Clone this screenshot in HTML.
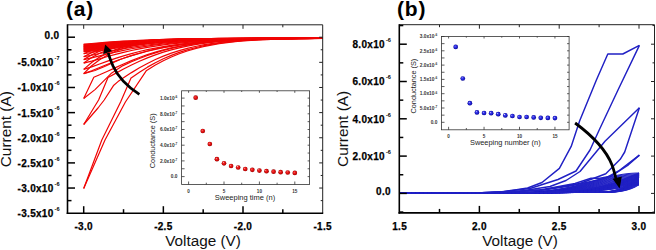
<!DOCTYPE html>
<html><head><meta charset="utf-8"><style>
html,body{margin:0;padding:0;background:#fff;}
svg{display:block;}
</style></head><body>
<svg width="656" height="250" viewBox="0 0 656 250" font-family="'Liberation Sans', sans-serif">
<rect width="656" height="250" fill="#fff"/>
<g clip-path="url(#clipA)">
<path d="M83.70,188.50 L101.80,140.00 L120.60,102.00 L131.00,78.00 L131.49,77.65 L139.46,72.14 L147.42,67.14 L155.39,62.68 L163.35,58.75 L171.31,55.33 L179.28,52.38 L187.25,49.86 L195.21,47.73 L203.18,45.95 L211.14,44.46 L219.11,43.23 L227.07,42.23 L235.04,41.40 L243.00,40.74 L250.97,40.20 L258.93,39.77 L266.90,39.42 L274.86,39.15 L282.83,38.94 L290.79,38.77 L298.76,38.64 L306.72,38.53 L314.69,38.45 L322.65,38.39 L330.62,38.35 L338.58,38.31" fill="none" stroke="#f00404" stroke-width="1.2" stroke-linejoin="round"/>
<path d="M83.70,188.50 L105.00,140.00 L125.40,102.00 L146.20,70.80 L147.42,70.00 L155.39,65.09 L163.35,60.78 L171.31,57.02 L179.28,53.78 L187.25,51.01 L195.21,48.67 L203.18,46.71 L211.14,45.08 L219.11,43.73 L227.07,42.62 L235.04,41.72 L243.00,40.99 L250.97,40.40 L258.93,39.92 L266.90,39.55 L274.86,39.25 L282.83,39.01 L290.79,38.82 L298.76,38.68 L306.72,38.57 L314.69,38.48 L322.65,38.41 L330.62,38.36 L338.58,38.32" fill="none" stroke="#f00404" stroke-width="1.2" stroke-linejoin="round"/>
<path d="M83.70,124.50 L93.70,108.00 L98.60,100.00 L108.00,77.50 L115.56,73.35 L123.53,69.07 L131.49,65.02 L139.46,61.27 L147.42,57.88 L155.39,54.84 L163.35,52.17 L171.31,49.84 L179.28,47.84 L187.25,46.13 L195.21,44.68 L203.18,43.47 L211.14,42.46 L219.11,41.62 L227.07,40.94 L235.04,40.38 L243.00,39.92 L250.97,39.56 L258.93,39.27 L266.90,39.03 L274.86,38.85 L282.83,38.70 L290.79,38.59 L298.76,38.50 L306.72,38.43 L314.69,38.37 L322.65,38.33 L330.62,38.30 L338.58,38.27" fill="none" stroke="#f00404" stroke-width="1.2" stroke-linejoin="round"/>
<path d="M83.70,124.50 L98.00,108.00 L104.20,100.00 L113.80,85.20 L118.00,81.60 L123.53,77.81 L131.49,72.62 L139.46,67.81 L147.42,63.45 L155.39,59.56 L163.35,56.13 L171.31,53.14 L179.28,50.57 L187.25,48.37 L195.21,46.52 L203.18,44.96 L211.14,43.66 L219.11,42.59 L227.07,41.71 L235.04,40.99 L243.00,40.41 L250.97,39.94 L258.93,39.57 L266.90,39.27 L274.86,39.03 L282.83,38.84 L290.79,38.70 L298.76,38.58 L306.72,38.49 L314.69,38.42 L322.65,38.37 L330.62,38.33 L338.58,38.30" fill="none" stroke="#f00404" stroke-width="1.2" stroke-linejoin="round"/>
<path d="M83.70,98.50 L93.80,77.20 L99.63,74.81 L107.59,71.24 L115.56,67.59 L123.53,64.01 L131.49,60.62 L139.46,57.49 L147.42,54.65 L155.39,52.12 L163.35,49.88 L171.31,47.94 L179.28,46.26 L187.25,44.83 L195.21,43.62 L203.18,42.60 L211.14,41.76 L219.11,41.06 L227.07,40.49 L235.04,40.02 L243.00,39.64 L250.97,39.34 L258.93,39.09 L266.90,38.90 L274.86,38.74 L282.83,38.62 L290.79,38.52 L298.76,38.45 L306.72,38.39 L314.69,38.34 L322.65,38.31 L330.62,38.28 L338.58,38.26" fill="none" stroke="#f00404" stroke-width="1.2" stroke-linejoin="round"/>
<path d="M83.70,98.50 L95.00,89.60 L111.00,73.60 L123.00,65.60 L123.53,65.36 L131.49,61.79 L139.46,58.50 L147.42,55.51 L155.39,52.84 L163.35,50.49 L171.31,48.44 L179.28,46.68 L187.25,45.17 L195.21,43.90 L203.18,42.83 L211.14,41.95 L219.11,41.21 L227.07,40.61 L235.04,40.12 L243.00,39.72 L250.97,39.40 L258.93,39.14 L266.90,38.93 L274.86,38.77 L282.83,38.64 L290.79,38.54 L298.76,38.46 L306.72,38.40 L314.69,38.35 L322.65,38.32 L330.62,38.29 L338.58,38.27" fill="none" stroke="#f00404" stroke-width="1.2" stroke-linejoin="round"/>
<path d="M83.70,73.60 L95.00,70.50 L104.60,66.50 L120.00,59.50 L123.53,58.28 L131.49,55.65 L139.46,53.21 L147.42,51.00 L155.39,49.03 L163.35,47.29 L171.31,45.78 L179.28,44.47 L187.25,43.36 L195.21,42.42 L203.18,41.63 L211.14,40.97 L219.11,40.43 L227.07,39.98 L235.04,39.62 L243.00,39.32 L250.97,39.08 L258.93,38.89 L266.90,38.74 L274.86,38.62 L282.83,38.53 L290.79,38.45 L298.76,38.39 L306.72,38.35 L314.69,38.31 L322.65,38.29 L330.62,38.26 L338.58,38.25" fill="none" stroke="#f00404" stroke-width="1.2" stroke-linejoin="round"/>
<path d="M83.70,73.60 L91.66,70.80 L99.63,67.49 L107.59,64.21 L115.56,61.11 L123.53,58.24 L131.49,55.64 L139.46,53.30 L147.42,51.22 L155.39,49.39 L163.35,47.78 L171.31,46.38 L179.28,45.16 L187.25,44.11 L195.21,43.20 L203.18,42.42 L211.14,41.76 L219.11,41.19 L227.07,40.71 L235.04,40.30 L243.00,39.96 L250.97,39.67 L258.93,39.42 L266.90,39.22 L274.86,39.04 L282.83,38.90 L290.79,38.78 L298.76,38.68 L306.72,38.59 L314.69,38.53 L322.65,38.47 L330.62,38.42 L338.58,38.38" fill="none" stroke="#f00404" stroke-width="1.2" stroke-linejoin="round"/>
<path d="M83.70,73.60 L91.66,65.77 L99.63,59.67 L107.59,54.92 L115.56,51.22 L123.53,48.34 L131.49,46.10 L139.46,44.35 L147.42,42.99 L155.39,41.93 L163.35,41.11 L171.31,40.46 L179.28,39.96 L187.25,39.57 L195.21,39.27 L203.18,39.03 L211.14,38.85 L219.11,38.70 L227.07,38.59 L235.04,38.51 L243.00,38.44 L250.97,38.39 L258.93,38.34 L266.90,38.31 L274.86,38.29 L282.83,38.27 L290.79,38.25 L298.76,38.24 L306.72,38.23 L314.69,38.23 L322.65,38.22 L330.62,38.22 L338.58,38.21" fill="none" stroke="#f00404" stroke-width="1.2" stroke-linejoin="round"/>
<path d="M83.70,69.40 L91.66,66.93 L99.63,64.01 L107.59,61.12 L115.56,58.39 L123.53,55.86 L131.49,53.57 L139.46,51.51 L147.42,49.68 L155.39,48.06 L163.35,46.64 L171.31,45.41 L179.28,44.33 L187.25,43.41 L195.21,42.61 L203.18,41.92 L211.14,41.34 L219.11,40.84 L227.07,40.41 L235.04,40.05 L243.00,39.75 L250.97,39.49 L258.93,39.28 L266.90,39.10 L274.86,38.94 L282.83,38.82 L290.79,38.71 L298.76,38.62 L306.72,38.55 L314.69,38.49 L322.65,38.44 L330.62,38.39 L338.58,38.36" fill="none" stroke="#f00404" stroke-width="1.2" stroke-linejoin="round"/>
<path d="M83.70,69.40 L91.66,62.50 L99.63,57.12 L107.59,52.94 L115.56,49.68 L123.53,47.14 L131.49,45.16 L139.46,43.62 L147.42,42.42 L155.39,41.49 L163.35,40.76 L171.31,40.19 L179.28,39.75 L187.25,39.41 L195.21,39.14 L203.18,38.93 L211.14,38.77 L219.11,38.65 L227.07,38.55 L235.04,38.47 L243.00,38.41 L250.97,38.36 L258.93,38.33 L266.90,38.30 L274.86,38.28 L282.83,38.26 L290.79,38.25 L298.76,38.24 L306.72,38.23 L314.69,38.22 L322.65,38.22 L330.62,38.21 L338.58,38.21" fill="none" stroke="#f00404" stroke-width="1.2" stroke-linejoin="round"/>
<path d="M83.70,63.10 L91.66,61.13 L99.63,58.80 L107.59,56.50 L115.56,54.31 L123.53,52.30 L131.49,50.47 L139.46,48.82 L147.42,47.36 L155.39,46.07 L163.35,44.94 L171.31,43.95 L179.28,43.09 L187.25,42.35 L195.21,41.72 L203.18,41.17 L211.14,40.70 L219.11,40.30 L227.07,39.97 L235.04,39.68 L243.00,39.44 L250.97,39.23 L258.93,39.06 L266.90,38.91 L274.86,38.79 L282.83,38.69 L290.79,38.61 L298.76,38.54 L306.72,38.48 L314.69,38.43 L322.65,38.39 L330.62,38.35 L338.58,38.33" fill="none" stroke="#f00404" stroke-width="1.2" stroke-linejoin="round"/>
<path d="M83.70,63.10 L91.66,57.59 L99.63,53.30 L107.59,49.96 L115.56,47.36 L123.53,45.33 L131.49,43.76 L139.46,42.53 L147.42,41.57 L155.39,40.82 L163.35,40.24 L171.31,39.79 L179.28,39.44 L187.25,39.17 L195.21,38.95 L203.18,38.79 L211.14,38.66 L219.11,38.56 L227.07,38.48 L235.04,38.42 L243.00,38.37 L250.97,38.33 L258.93,38.30 L266.90,38.28 L274.86,38.26 L282.83,38.25 L290.79,38.24 L298.76,38.23 L306.72,38.22 L314.69,38.22 L322.65,38.21 L330.62,38.21 L338.58,38.21" fill="none" stroke="#f00404" stroke-width="1.2" stroke-linejoin="round"/>
<path d="M83.70,59.60 L91.66,57.91 L99.63,55.91 L107.59,53.92 L115.56,52.05 L123.53,50.32 L131.49,48.74 L139.46,47.33 L147.42,46.07 L155.39,44.96 L163.35,43.99 L171.31,43.14 L179.28,42.41 L187.25,41.77 L195.21,41.22 L203.18,40.75 L211.14,40.35 L219.11,40.01 L227.07,39.72 L235.04,39.47 L243.00,39.26 L250.97,39.09 L258.93,38.94 L266.90,38.81 L274.86,38.71 L282.83,38.62 L290.79,38.55 L298.76,38.49 L306.72,38.44 L314.69,38.40 L322.65,38.36 L330.62,38.33 L338.58,38.31" fill="none" stroke="#f00404" stroke-width="1.2" stroke-linejoin="round"/>
<path d="M83.70,59.60 L91.66,54.87 L99.63,51.18 L107.59,48.31 L115.56,46.07 L123.53,44.33 L131.49,42.97 L139.46,41.92 L147.42,41.10 L155.39,40.46 L163.35,39.96 L171.31,39.57 L179.28,39.27 L187.25,39.03 L195.21,38.85 L203.18,38.70 L211.14,38.59 L219.11,38.51 L227.07,38.44 L235.04,38.39 L243.00,38.34 L250.97,38.31 L258.93,38.29 L266.90,38.27 L274.86,38.25 L282.83,38.24 L290.79,38.23 L298.76,38.23 L306.72,38.22 L314.69,38.22 L322.65,38.21 L330.62,38.21 L338.58,38.21" fill="none" stroke="#f00404" stroke-width="1.2" stroke-linejoin="round"/>
<path d="M83.70,56.70 L91.66,55.24 L99.63,53.51 L107.59,51.79 L115.56,50.17 L123.53,48.67 L131.49,47.31 L139.46,46.09 L147.42,45.01 L155.39,44.05 L163.35,43.21 L171.31,42.47 L179.28,41.84 L187.25,41.29 L195.21,40.81 L203.18,40.41 L211.14,40.06 L219.11,39.76 L227.07,39.51 L235.04,39.30 L243.00,39.12 L250.97,38.97 L258.93,38.84 L266.90,38.73 L274.86,38.64 L282.83,38.57 L290.79,38.50 L298.76,38.45 L306.72,38.41 L314.69,38.37 L322.65,38.34 L330.62,38.31 L338.58,38.29" fill="none" stroke="#f00404" stroke-width="1.2" stroke-linejoin="round"/>
<path d="M83.70,56.70 L91.66,52.61 L99.63,49.42 L107.59,46.94 L115.56,45.01 L123.53,43.50 L131.49,42.33 L139.46,41.41 L147.42,40.70 L155.39,40.15 L163.35,39.72 L171.31,39.38 L179.28,39.12 L187.25,38.92 L195.21,38.76 L203.18,38.64 L211.14,38.54 L219.11,38.46 L227.07,38.41 L235.04,38.36 L243.00,38.32 L250.97,38.30 L258.93,38.28 L266.90,38.26 L274.86,38.25 L282.83,38.24 L290.79,38.23 L298.76,38.22 L306.72,38.22 L314.69,38.21 L322.65,38.21 L330.62,38.21 L338.58,38.21" fill="none" stroke="#f00404" stroke-width="1.2" stroke-linejoin="round"/>
<path d="M83.70,53.70 L91.66,52.47 L99.63,51.02 L107.59,49.59 L115.56,48.23 L123.53,46.98 L131.49,45.84 L139.46,44.81 L147.42,43.90 L155.39,43.10 L163.35,42.39 L171.31,41.78 L179.28,41.25 L187.25,40.79 L195.21,40.39 L203.18,40.05 L211.14,39.76 L219.11,39.51 L227.07,39.30 L235.04,39.12 L243.00,38.97 L250.97,38.84 L258.93,38.73 L266.90,38.64 L274.86,38.57 L282.83,38.51 L290.79,38.45 L298.76,38.41 L306.72,38.37 L314.69,38.34 L322.65,38.32 L330.62,38.30 L338.58,38.28" fill="none" stroke="#f00404" stroke-width="1.2" stroke-linejoin="round"/>
<path d="M83.70,53.70 L91.66,50.27 L99.63,47.60 L107.59,45.52 L115.56,43.90 L123.53,42.64 L131.49,41.66 L139.46,40.89 L147.42,40.30 L155.39,39.83 L163.35,39.47 L171.31,39.19 L179.28,38.97 L187.25,38.80 L195.21,38.67 L203.18,38.56 L211.14,38.48 L219.11,38.42 L227.07,38.37 L235.04,38.33 L243.00,38.30 L250.97,38.28 L258.93,38.26 L266.90,38.25 L274.86,38.24 L282.83,38.23 L290.79,38.22 L298.76,38.22 L306.72,38.21 L314.69,38.21 L322.65,38.21 L330.62,38.21 L338.58,38.21" fill="none" stroke="#f00404" stroke-width="1.2" stroke-linejoin="round"/>
<path d="M83.70,51.80 L91.66,51.13 L99.63,50.09 L107.59,48.93 L115.56,47.75 L123.53,46.58 L131.49,45.48 L139.46,44.47 L147.42,43.54 L155.39,42.72 L163.35,41.99 L171.31,41.36 L179.28,40.82 L187.25,40.35 L195.21,39.96 L203.18,39.63 L211.14,39.36 L219.11,39.13 L227.07,38.94 L235.04,38.79 L243.00,38.67 L250.97,38.57 L258.93,38.49 L266.90,38.43 L274.86,38.38 L282.83,38.34 L290.79,38.31 L298.76,38.28 L306.72,38.26 L314.69,38.25 L322.65,38.24 L330.62,38.23 L338.58,38.22" fill="none" stroke="#f00404" stroke-width="1.1" stroke-linejoin="round"/>
<path d="M83.70,51.80 L91.66,49.89 L99.63,48.24 L107.59,46.83 L115.56,45.62 L123.53,44.58 L131.49,43.68 L139.46,42.91 L147.42,42.25 L155.39,41.68 L163.35,41.19 L171.31,40.77 L179.28,40.41 L187.25,40.10 L195.21,39.83 L203.18,39.60 L211.14,39.40 L219.11,39.23 L227.07,39.09 L235.04,38.96 L243.00,38.86 L250.97,38.76 L258.93,38.69 L266.90,38.62 L274.86,38.56 L282.83,38.51 L290.79,38.46 L298.76,38.43 L306.72,38.40 L314.69,38.37 L322.65,38.34 L330.62,38.32 L338.58,38.31" fill="none" stroke="#f00404" stroke-width="1.1" stroke-linejoin="round"/>
<path d="M83.70,51.00 L91.66,50.37 L99.63,49.39 L107.59,48.30 L115.56,47.18 L123.53,46.09 L131.49,45.06 L139.46,44.10 L147.42,43.23 L155.39,42.45 L163.35,41.77 L171.31,41.18 L179.28,40.66 L187.25,40.23 L195.21,39.86 L203.18,39.55 L211.14,39.29 L219.11,39.07 L227.07,38.90 L235.04,38.76 L243.00,38.64 L250.97,38.55 L258.93,38.47 L266.90,38.41 L274.86,38.37 L282.83,38.33 L290.79,38.30 L298.76,38.28 L306.72,38.26 L314.69,38.24 L322.65,38.23 L330.62,38.23 L338.58,38.22" fill="none" stroke="#f00404" stroke-width="1.1" stroke-linejoin="round"/>
<path d="M83.70,51.00 L91.66,49.20 L99.63,47.65 L107.59,46.32 L115.56,45.18 L123.53,44.20 L131.49,43.36 L139.46,42.63 L147.42,42.01 L155.39,41.47 L163.35,41.01 L171.31,40.62 L179.28,40.28 L187.25,39.99 L195.21,39.73 L203.18,39.52 L211.14,39.33 L219.11,39.17 L227.07,39.04 L235.04,38.92 L243.00,38.82 L250.97,38.73 L258.93,38.66 L266.90,38.59 L274.86,38.54 L282.83,38.49 L290.79,38.45 L298.76,38.41 L306.72,38.38 L314.69,38.36 L322.65,38.34 L330.62,38.32 L338.58,38.30" fill="none" stroke="#f00404" stroke-width="1.1" stroke-linejoin="round"/>
<path d="M83.70,50.20 L91.66,49.61 L99.63,48.69 L107.59,47.67 L115.56,46.62 L123.53,45.60 L131.49,44.63 L139.46,43.73 L147.42,42.92 L155.39,42.19 L163.35,41.55 L171.31,40.99 L179.28,40.51 L187.25,40.10 L195.21,39.75 L203.18,39.46 L211.14,39.22 L219.11,39.02 L227.07,38.86 L235.04,38.72 L243.00,38.61 L250.97,38.53 L258.93,38.46 L266.90,38.40 L274.86,38.36 L282.83,38.32 L290.79,38.29 L298.76,38.27 L306.72,38.25 L314.69,38.24 L322.65,38.23 L330.62,38.22 L338.58,38.22" fill="none" stroke="#f00404" stroke-width="1.1" stroke-linejoin="round"/>
<path d="M83.70,50.20 L91.66,48.51 L99.63,47.06 L107.59,45.82 L115.56,44.75 L123.53,43.83 L131.49,43.03 L139.46,42.35 L147.42,41.77 L155.39,41.27 L163.35,40.84 L171.31,40.47 L179.28,40.15 L187.25,39.87 L195.21,39.64 L203.18,39.44 L211.14,39.26 L219.11,39.11 L227.07,38.98 L235.04,38.87 L243.00,38.78 L250.97,38.70 L258.93,38.63 L266.90,38.57 L274.86,38.52 L282.83,38.47 L290.79,38.43 L298.76,38.40 L306.72,38.37 L314.69,38.35 L322.65,38.33 L330.62,38.31 L338.58,38.29" fill="none" stroke="#f00404" stroke-width="1.1" stroke-linejoin="round"/>
<path d="M83.70,49.40 L91.66,48.85 L99.63,47.99 L107.59,47.04 L115.56,46.06 L123.53,45.10 L131.49,44.20 L139.46,43.36 L147.42,42.60 L155.39,41.92 L163.35,41.33 L171.31,40.80 L179.28,40.36 L187.25,39.97 L195.21,39.65 L203.18,39.38 L211.14,39.15 L219.11,38.97 L227.07,38.81 L235.04,38.69 L243.00,38.59 L250.97,38.50 L258.93,38.44 L266.90,38.39 L274.86,38.34 L282.83,38.31 L290.79,38.29 L298.76,38.27 L306.72,38.25 L314.69,38.24 L322.65,38.23 L330.62,38.22 L338.58,38.22" fill="none" stroke="#f00404" stroke-width="1.1" stroke-linejoin="round"/>
<path d="M83.70,49.40 L91.66,47.83 L99.63,46.47 L107.59,45.31 L115.56,44.31 L123.53,43.45 L131.49,42.71 L139.46,42.08 L147.42,41.53 L155.39,41.06 L163.35,40.66 L171.31,40.32 L179.28,40.02 L187.25,39.76 L195.21,39.54 L203.18,39.35 L211.14,39.19 L219.11,39.05 L227.07,38.93 L235.04,38.83 L243.00,38.74 L250.97,38.66 L258.93,38.60 L266.90,38.54 L274.86,38.50 L282.83,38.45 L290.79,38.42 L298.76,38.39 L306.72,38.36 L314.69,38.34 L322.65,38.32 L330.62,38.30 L338.58,38.29" fill="none" stroke="#f00404" stroke-width="1.1" stroke-linejoin="round"/>
<path d="M83.70,48.60 L91.66,48.08 L99.63,47.29 L107.59,46.41 L115.56,45.50 L123.53,44.61 L131.49,43.77 L139.46,42.99 L147.42,42.29 L155.39,41.66 L163.35,41.10 L171.31,40.62 L179.28,40.20 L187.25,39.85 L195.21,39.55 L203.18,39.29 L211.14,39.08 L219.11,38.91 L227.07,38.77 L235.04,38.65 L243.00,38.56 L250.97,38.48 L258.93,38.42 L266.90,38.37 L274.86,38.33 L282.83,38.30 L290.79,38.28 L298.76,38.26 L306.72,38.25 L314.69,38.24 L322.65,38.23 L330.62,38.22 L338.58,38.22" fill="none" stroke="#f00404" stroke-width="1.1" stroke-linejoin="round"/>
<path d="M83.70,48.60 L91.66,47.14 L99.63,45.88 L107.59,44.80 L115.56,43.87 L123.53,43.08 L131.49,42.39 L139.46,41.80 L147.42,41.29 L155.39,40.86 L163.35,40.49 L171.31,40.16 L179.28,39.89 L187.25,39.65 L195.21,39.45 L203.18,39.27 L211.14,39.12 L219.11,38.99 L227.07,38.88 L235.04,38.78 L243.00,38.70 L250.97,38.63 L258.93,38.57 L266.90,38.52 L274.86,38.47 L282.83,38.44 L290.79,38.40 L298.76,38.37 L306.72,38.35 L314.69,38.33 L322.65,38.31 L330.62,38.29 L338.58,38.28" fill="none" stroke="#f00404" stroke-width="1.1" stroke-linejoin="round"/>
<path d="M83.70,47.80 L91.66,47.32 L99.63,46.60 L107.59,45.78 L115.56,44.94 L123.53,44.12 L131.49,43.34 L139.46,42.62 L147.42,41.97 L155.39,41.39 L163.35,40.88 L171.31,40.43 L179.28,40.05 L187.25,39.72 L195.21,39.44 L203.18,39.21 L211.14,39.02 L219.11,38.86 L227.07,38.72 L235.04,38.62 L243.00,38.53 L250.97,38.46 L258.93,38.40 L266.90,38.36 L274.86,38.32 L282.83,38.30 L290.79,38.27 L298.76,38.26 L306.72,38.24 L314.69,38.23 L322.65,38.23 L330.62,38.22 L338.58,38.21" fill="none" stroke="#f00404" stroke-width="1.1" stroke-linejoin="round"/>
<path d="M83.70,47.80 L91.66,46.45 L99.63,45.29 L107.59,44.29 L115.56,43.44 L123.53,42.70 L131.49,42.07 L139.46,41.52 L147.42,41.06 L155.39,40.65 L163.35,40.31 L171.31,40.01 L179.28,39.76 L187.25,39.54 L195.21,39.35 L203.18,39.19 L211.14,39.05 L219.11,38.93 L227.07,38.83 L235.04,38.74 L243.00,38.66 L250.97,38.60 L258.93,38.54 L266.90,38.49 L274.86,38.45 L282.83,38.42 L290.79,38.39 L298.76,38.36 L306.72,38.34 L314.69,38.32 L322.65,38.30 L330.62,38.29 L338.58,38.28" fill="none" stroke="#f00404" stroke-width="1.1" stroke-linejoin="round"/>
<path d="M83.70,47.10 L91.66,46.66 L99.63,45.98 L107.59,45.22 L115.56,44.45 L123.53,43.69 L131.49,42.97 L139.46,42.30 L147.42,41.70 L155.39,41.16 L163.35,40.68 L171.31,40.27 L179.28,39.91 L187.25,39.61 L195.21,39.35 L203.18,39.14 L211.14,38.96 L219.11,38.81 L227.07,38.69 L235.04,38.59 L243.00,38.51 L250.97,38.44 L258.93,38.39 L266.90,38.35 L274.86,38.32 L282.83,38.29 L290.79,38.27 L298.76,38.25 L306.72,38.24 L314.69,38.23 L322.65,38.22 L330.62,38.22 L338.58,38.21" fill="none" stroke="#f00404" stroke-width="1.1" stroke-linejoin="round"/>
<path d="M83.70,47.10 L91.66,45.85 L99.63,44.77 L107.59,43.85 L115.56,43.05 L123.53,42.37 L131.49,41.79 L139.46,41.28 L147.42,40.85 L155.39,40.48 L163.35,40.16 L171.31,39.88 L179.28,39.64 L187.25,39.44 L195.21,39.27 L203.18,39.12 L211.14,38.99 L219.11,38.88 L227.07,38.78 L235.04,38.70 L243.00,38.63 L250.97,38.57 L258.93,38.52 L266.90,38.47 L274.86,38.43 L282.83,38.40 L290.79,38.37 L298.76,38.35 L306.72,38.33 L314.69,38.31 L322.65,38.29 L330.62,38.28 L338.58,38.27" fill="none" stroke="#f00404" stroke-width="1.1" stroke-linejoin="round"/>
<path d="M83.70,46.40 L91.66,45.99 L99.63,45.37 L107.59,44.67 L115.56,43.96 L123.53,43.26 L131.49,42.59 L139.46,41.98 L147.42,41.42 L155.39,40.93 L163.35,40.49 L171.31,40.11 L179.28,39.78 L187.25,39.50 L195.21,39.26 L203.18,39.06 L211.14,38.90 L219.11,38.76 L227.07,38.65 L235.04,38.56 L243.00,38.48 L250.97,38.42 L258.93,38.37 L266.90,38.34 L274.86,38.31 L282.83,38.28 L290.79,38.26 L298.76,38.25 L306.72,38.24 L314.69,38.23 L322.65,38.22 L330.62,38.22 L338.58,38.21" fill="none" stroke="#f00404" stroke-width="1.1" stroke-linejoin="round"/>
<path d="M83.70,46.40 L91.66,45.25 L99.63,44.26 L107.59,43.40 L115.56,42.67 L123.53,42.04 L131.49,41.50 L139.46,41.04 L147.42,40.64 L155.39,40.30 L163.35,40.00 L171.31,39.75 L179.28,39.53 L187.25,39.34 L195.21,39.18 L203.18,39.04 L211.14,38.93 L219.11,38.82 L227.07,38.74 L235.04,38.66 L243.00,38.60 L250.97,38.54 L258.93,38.49 L266.90,38.45 L274.86,38.42 L282.83,38.39 L290.79,38.36 L298.76,38.34 L306.72,38.32 L314.69,38.30 L322.65,38.29 L330.62,38.27 L338.58,38.26" fill="none" stroke="#f00404" stroke-width="1.1" stroke-linejoin="round"/>
<path d="M83.70,45.70 L91.66,45.33 L99.63,44.76 L107.59,44.12 L115.56,43.46 L123.53,42.82 L131.49,42.22 L139.46,41.66 L147.42,41.15 L155.39,40.69 L163.35,40.29 L171.31,39.94 L179.28,39.64 L187.25,39.39 L195.21,39.17 L203.18,38.99 L211.14,38.84 L219.11,38.71 L227.07,38.61 L235.04,38.53 L243.00,38.46 L250.97,38.40 L258.93,38.36 L266.90,38.32 L274.86,38.30 L282.83,38.28 L290.79,38.26 L298.76,38.24 L306.72,38.23 L314.69,38.23 L322.65,38.22 L330.62,38.21 L338.58,38.21" fill="none" stroke="#f00404" stroke-width="1.1" stroke-linejoin="round"/>
<path d="M83.70,45.70 L91.66,44.65 L99.63,43.74 L107.59,42.96 L115.56,42.29 L123.53,41.72 L131.49,41.22 L139.46,40.80 L147.42,40.43 L155.39,40.12 L163.35,39.85 L171.31,39.62 L179.28,39.42 L187.25,39.25 L195.21,39.10 L203.18,38.97 L211.14,38.86 L219.11,38.77 L227.07,38.69 L235.04,38.62 L243.00,38.56 L250.97,38.51 L258.93,38.47 L266.90,38.43 L274.86,38.40 L282.83,38.37 L290.79,38.35 L298.76,38.33 L306.72,38.31 L314.69,38.29 L322.65,38.28 L330.62,38.27 L338.58,38.26" fill="none" stroke="#f00404" stroke-width="1.1" stroke-linejoin="round"/>
<path d="M83.70,45.00 L91.66,44.66 L99.63,44.15 L107.59,43.57 L115.56,42.97 L123.53,42.39 L131.49,41.84 L139.46,41.33 L147.42,40.87 L155.39,40.46 L163.35,40.10 L171.31,39.78 L179.28,39.51 L187.25,39.28 L195.21,39.08 L203.18,38.92 L211.14,38.78 L219.11,38.66 L227.07,38.57 L235.04,38.50 L243.00,38.43 L250.97,38.38 L258.93,38.34 L266.90,38.31 L274.86,38.29 L282.83,38.27 L290.79,38.25 L298.76,38.24 L306.72,38.23 L314.69,38.22 L322.65,38.22 L330.62,38.21 L338.58,38.21" fill="none" stroke="#f00404" stroke-width="1.1" stroke-linejoin="round"/>
<path d="M83.70,45.00 L91.66,44.04 L99.63,43.22 L107.59,42.52 L115.56,41.91 L123.53,41.39 L131.49,40.94 L139.46,40.55 L147.42,40.22 L155.39,39.94 L163.35,39.69 L171.31,39.48 L179.28,39.30 L187.25,39.15 L195.21,39.02 L203.18,38.90 L211.14,38.80 L219.11,38.72 L227.07,38.64 L235.04,38.58 L243.00,38.53 L250.97,38.48 L258.93,38.44 L266.90,38.41 L274.86,38.38 L282.83,38.35 L290.79,38.33 L298.76,38.31 L306.72,38.30 L314.69,38.28 L322.65,38.27 L330.62,38.26 L338.58,38.25" fill="none" stroke="#f00404" stroke-width="1.1" stroke-linejoin="round"/>
<path d="M83.70,44.40 L91.66,44.09 L99.63,43.62 L107.59,43.09 L115.56,42.55 L123.53,42.02 L131.49,41.52 L139.46,41.06 L147.42,40.64 L155.39,40.26 L163.35,39.93 L171.31,39.64 L179.28,39.39 L187.25,39.18 L195.21,39.00 L203.18,38.85 L211.14,38.73 L219.11,38.62 L227.07,38.54 L235.04,38.47 L243.00,38.41 L250.97,38.37 L258.93,38.33 L266.90,38.30 L274.86,38.28 L282.83,38.26 L290.79,38.25 L298.76,38.24 L306.72,38.23 L314.69,38.22 L322.65,38.22 L330.62,38.21 L338.58,38.21" fill="none" stroke="#f00404" stroke-width="1.1" stroke-linejoin="round"/>
<path d="M83.70,44.40 L91.66,43.53 L99.63,42.78 L107.59,42.14 L115.56,41.58 L123.53,41.11 L131.49,40.70 L139.46,40.35 L147.42,40.04 L155.39,39.79 L163.35,39.56 L171.31,39.37 L179.28,39.21 L187.25,39.06 L195.21,38.94 L203.18,38.84 L211.14,38.75 L219.11,38.67 L227.07,38.61 L235.04,38.55 L243.00,38.50 L250.97,38.46 L258.93,38.42 L266.90,38.39 L274.86,38.36 L282.83,38.34 L290.79,38.32 L298.76,38.30 L306.72,38.29 L314.69,38.28 L322.65,38.27 L330.62,38.26 L338.58,38.25" fill="none" stroke="#f00404" stroke-width="1.1" stroke-linejoin="round"/>
</g>
<g clip-path="url(#clipB)">
<path d="M470.00,193.20 L503.60,191.60 L527.60,188.00 L542.00,182.50 L559.40,168.40 L571.20,146.40 L579.60,121.00 L596.40,80.00 L607.80,54.00 L622.80,54.00 L639.40,45.40" fill="none" stroke="#2020c4" stroke-width="1.45" stroke-linejoin="round"/>
<path d="M639.40,45.40 L618.00,90.00 L600.00,128.30 L590.00,150.00 L576.00,171.00 L558.00,179.50 L530.00,188.50 L500.00,192.00 L470.00,193.20" fill="none" stroke="#2020c4" stroke-width="1.45" stroke-linejoin="round"/>
<path d="M470.00,193.30 L520.00,191.20 L550.00,186.50 L566.00,180.50 L580.00,171.50 L605.00,141.20 L639.40,107.80" fill="none" stroke="#2020c4" stroke-width="1.45" stroke-linejoin="round"/>
<path d="M639.40,107.80 L624.70,152.00 L620.20,159.30 L605.80,173.70 L580.00,183.50 L545.00,189.50 L490.00,193.20" fill="none" stroke="#2020c4" stroke-width="1.45" stroke-linejoin="round"/>
<path d="M639.40,155.10 L618.60,171.00 L606.00,178.00 L591.00,181.50 L570.00,186.00 L540.00,190.50 L480.00,193.30" fill="none" stroke="#2020c4" stroke-width="1.45" stroke-linejoin="round"/>
<path d="M639.40,155.10 L628.40,164.80 L611.60,176.00 L600.00,178.30 L591.00,178.30 L575.00,183.50 L540.00,190.00 L480.00,193.30" fill="none" stroke="#2020c4" stroke-width="1.45" stroke-linejoin="round"/>
<path d="M639.00,173.00 L635.01,173.08 L631.02,173.32 L627.03,173.70 L623.04,174.24 L619.05,174.90 L615.06,175.68 L611.07,176.55 L607.08,177.51 L603.09,178.53 L599.10,179.60 L595.11,180.68 L591.12,181.78 L587.13,182.86 L583.14,183.91 L579.15,184.93 L575.16,185.90 L571.17,186.80 L567.18,187.65 L563.19,188.42 L559.20,189.12 L555.21,189.76 L551.22,190.32 L547.23,190.82 L543.24,191.25 L539.25,191.62 L535.26,191.95 L531.27,192.22 L527.28,192.45 L523.29,192.64 L519.30,192.79 L515.31,192.92 L511.32,193.03 L507.33,193.11 L503.34,193.18 L499.35,193.23 L495.36,193.27 L491.37,193.30 L487.38,193.33 L483.39,193.35 L479.40,193.36 L475.41,193.37 L471.42,193.38 L467.43,193.39 L463.44,193.39 L459.45,193.39 L455.46,193.39 L451.47,193.40 L447.48,193.40 L443.49,193.40 L439.50,193.40 L435.51,193.40 L431.52,193.40 L427.53,193.40 L423.54,193.40 L419.55,193.40 L415.56,193.40 L411.57,193.40 L407.58,193.40 L403.59,193.40 L399.60,193.40 L395.61,193.40 L391.62,193.40 L387.63,193.40 L383.64,193.40" fill="none" stroke="#2020c4" stroke-width="1.0" stroke-linejoin="round"/>
<path d="M639.00,173.00 L635.01,174.45 L631.02,176.17 L627.03,177.90 L623.04,179.56 L619.05,181.12 L615.06,182.55 L611.07,183.86 L607.08,185.04 L603.09,186.10 L599.10,187.04 L595.11,187.88 L591.12,188.62 L587.13,189.27 L583.14,189.84 L579.15,190.34 L575.16,190.77 L571.17,191.15 L567.18,191.47 L563.19,191.76 L559.20,192.00 L555.21,192.21 L551.22,192.39 L547.23,192.54 L543.24,192.67 L539.25,192.74 L535.26,192.77 L531.27,192.79 L527.28,192.81 L523.29,192.83 L519.30,192.85 L515.31,192.87 L511.32,192.89 L507.33,192.91 L503.34,192.92 L499.35,192.94 L495.36,192.96 L491.37,192.97 L487.38,192.99 L483.39,193.00 L479.40,193.02 L475.41,193.03 L471.42,193.04 L467.43,193.06 L463.44,193.07 L459.45,193.08 L455.46,193.09 L451.47,193.10 L447.48,193.11 L443.49,193.12 L439.50,193.13 L435.51,193.14 L431.52,193.15 L427.53,193.16 L423.54,193.17 L419.55,193.18 L415.56,193.18 L411.57,193.19 L407.58,193.20 L403.59,193.21 L399.60,193.21 L395.61,193.22 L391.62,193.23 L387.63,193.23 L383.64,193.24" fill="none" stroke="#2020c4" stroke-width="1.0" stroke-linejoin="round"/>
<path d="M639.00,173.00 L635.01,178.48 L631.02,182.48 L627.03,185.41 L623.04,187.56 L619.05,189.12 L615.06,190.27 L611.07,191.11 L607.08,191.73 L603.09,192.17 L599.10,192.28 L595.11,192.32 L591.12,192.36 L587.13,192.39 L583.14,192.43 L579.15,192.46 L575.16,192.50 L571.17,192.53 L567.18,192.56 L563.19,192.59 L559.20,192.62 L555.21,192.64 L551.22,192.67 L547.23,192.70 L543.24,192.72 L539.25,192.74 L535.26,192.77 L531.27,192.79 L527.28,192.81 L523.29,192.83 L519.30,192.85 L515.31,192.87 L511.32,192.89 L507.33,192.91 L503.34,192.92 L499.35,192.94 L495.36,192.96 L491.37,192.97 L487.38,192.99 L483.39,193.00 L479.40,193.02 L475.41,193.03 L471.42,193.04 L467.43,193.06 L463.44,193.07 L459.45,193.08 L455.46,193.09 L451.47,193.10 L447.48,193.11 L443.49,193.12 L439.50,193.13 L435.51,193.14 L431.52,193.15 L427.53,193.16 L423.54,193.17 L419.55,193.18 L415.56,193.18 L411.57,193.19 L407.58,193.20 L403.59,193.21 L399.60,193.21 L395.61,193.22 L391.62,193.23 L387.63,193.23 L383.64,193.24" fill="none" stroke="#2020c4" stroke-width="1.0" stroke-linejoin="round"/>
<path d="M639.00,173.80 L635.01,173.88 L631.02,174.10 L627.03,174.48 L623.04,174.99 L619.05,175.62 L615.06,176.37 L611.07,177.21 L607.08,178.14 L603.09,179.12 L599.10,180.14 L595.11,181.18 L591.12,182.23 L587.13,183.27 L583.14,184.29 L579.15,185.26 L575.16,186.19 L571.17,187.06 L567.18,187.87 L563.19,188.62 L559.20,189.29 L555.21,189.90 L551.22,190.44 L547.23,190.92 L543.24,191.33 L539.25,191.69 L535.26,192.00 L531.27,192.26 L527.28,192.48 L523.29,192.67 L519.30,192.82 L515.31,192.94 L511.32,193.04 L507.33,193.12 L503.34,193.19 L499.35,193.24 L495.36,193.28 L491.37,193.31 L487.38,193.33 L483.39,193.35 L479.40,193.36 L475.41,193.37 L471.42,193.38 L467.43,193.39 L463.44,193.39 L459.45,193.39 L455.46,193.39 L451.47,193.40 L447.48,193.40 L443.49,193.40 L439.50,193.40 L435.51,193.40 L431.52,193.40 L427.53,193.40 L423.54,193.40 L419.55,193.40 L415.56,193.40 L411.57,193.40 L407.58,193.40 L403.59,193.40 L399.60,193.40 L395.61,193.40 L391.62,193.40 L387.63,193.40 L383.64,193.40" fill="none" stroke="#2020c4" stroke-width="1.0" stroke-linejoin="round"/>
<path d="M639.00,173.80 L635.01,175.19 L631.02,176.85 L627.03,178.51 L623.04,180.11 L619.05,181.60 L615.06,182.98 L611.07,184.23 L607.08,185.37 L603.09,186.38 L599.10,187.29 L595.11,188.10 L591.12,188.81 L587.13,189.43 L583.14,189.98 L579.15,190.46 L575.16,190.87 L571.17,191.24 L567.18,191.55 L563.19,191.82 L559.20,192.05 L555.21,192.25 L551.22,192.43 L547.23,192.57 L543.24,192.70 L539.25,192.74 L535.26,192.77 L531.27,192.79 L527.28,192.81 L523.29,192.83 L519.30,192.85 L515.31,192.87 L511.32,192.89 L507.33,192.91 L503.34,192.92 L499.35,192.94 L495.36,192.96 L491.37,192.97 L487.38,192.99 L483.39,193.00 L479.40,193.02 L475.41,193.03 L471.42,193.04 L467.43,193.06 L463.44,193.07 L459.45,193.08 L455.46,193.09 L451.47,193.10 L447.48,193.11 L443.49,193.12 L439.50,193.13 L435.51,193.14 L431.52,193.15 L427.53,193.16 L423.54,193.17 L419.55,193.18 L415.56,193.18 L411.57,193.19 L407.58,193.20 L403.59,193.21 L399.60,193.21 L395.61,193.22 L391.62,193.23 L387.63,193.23 L383.64,193.24" fill="none" stroke="#2020c4" stroke-width="1.0" stroke-linejoin="round"/>
<path d="M639.00,173.80 L635.01,179.06 L631.02,182.91 L627.03,185.72 L623.04,187.78 L619.05,189.29 L615.06,190.39 L611.07,191.20 L607.08,191.79 L603.09,192.22 L599.10,192.28 L595.11,192.32 L591.12,192.36 L587.13,192.39 L583.14,192.43 L579.15,192.46 L575.16,192.50 L571.17,192.53 L567.18,192.56 L563.19,192.59 L559.20,192.62 L555.21,192.64 L551.22,192.67 L547.23,192.70 L543.24,192.72 L539.25,192.74 L535.26,192.77 L531.27,192.79 L527.28,192.81 L523.29,192.83 L519.30,192.85 L515.31,192.87 L511.32,192.89 L507.33,192.91 L503.34,192.92 L499.35,192.94 L495.36,192.96 L491.37,192.97 L487.38,192.99 L483.39,193.00 L479.40,193.02 L475.41,193.03 L471.42,193.04 L467.43,193.06 L463.44,193.07 L459.45,193.08 L455.46,193.09 L451.47,193.10 L447.48,193.11 L443.49,193.12 L439.50,193.13 L435.51,193.14 L431.52,193.15 L427.53,193.16 L423.54,193.17 L419.55,193.18 L415.56,193.18 L411.57,193.19 L407.58,193.20 L403.59,193.21 L399.60,193.21 L395.61,193.22 L391.62,193.23 L387.63,193.23 L383.64,193.24" fill="none" stroke="#2020c4" stroke-width="1.0" stroke-linejoin="round"/>
<path d="M639.00,174.60 L635.01,174.67 L631.02,174.89 L627.03,175.25 L623.04,175.74 L619.05,176.35 L615.06,177.07 L611.07,177.88 L607.08,178.76 L603.09,179.70 L599.10,180.68 L595.11,181.68 L591.12,182.69 L587.13,183.68 L583.14,184.66 L579.15,185.59 L575.16,186.48 L571.17,187.32 L567.18,188.10 L563.19,188.81 L559.20,189.46 L555.21,190.04 L551.22,190.56 L547.23,191.02 L543.24,191.42 L539.25,191.76 L535.26,192.06 L531.27,192.31 L527.28,192.52 L523.29,192.70 L519.30,192.84 L515.31,192.96 L511.32,193.06 L507.33,193.13 L503.34,193.19 L499.35,193.24 L495.36,193.28 L491.37,193.31 L487.38,193.33 L483.39,193.35 L479.40,193.36 L475.41,193.37 L471.42,193.38 L467.43,193.39 L463.44,193.39 L459.45,193.39 L455.46,193.40 L451.47,193.40 L447.48,193.40 L443.49,193.40 L439.50,193.40 L435.51,193.40 L431.52,193.40 L427.53,193.40 L423.54,193.40 L419.55,193.40 L415.56,193.40 L411.57,193.40 L407.58,193.40 L403.59,193.40 L399.60,193.40 L395.61,193.40 L391.62,193.40 L387.63,193.40 L383.64,193.40" fill="none" stroke="#2020c4" stroke-width="1.0" stroke-linejoin="round"/>
<path d="M639.00,174.60 L635.01,175.93 L631.02,177.52 L627.03,179.12 L623.04,180.65 L619.05,182.08 L615.06,183.40 L611.07,184.61 L607.08,185.69 L603.09,186.67 L599.10,187.54 L595.11,188.31 L591.12,188.99 L587.13,189.59 L583.14,190.12 L579.15,190.58 L575.16,190.98 L571.17,191.32 L567.18,191.63 L563.19,191.88 L559.20,192.11 L555.21,192.30 L551.22,192.47 L547.23,192.61 L543.24,192.72 L539.25,192.74 L535.26,192.77 L531.27,192.79 L527.28,192.81 L523.29,192.83 L519.30,192.85 L515.31,192.87 L511.32,192.89 L507.33,192.91 L503.34,192.92 L499.35,192.94 L495.36,192.96 L491.37,192.97 L487.38,192.99 L483.39,193.00 L479.40,193.02 L475.41,193.03 L471.42,193.04 L467.43,193.06 L463.44,193.07 L459.45,193.08 L455.46,193.09 L451.47,193.10 L447.48,193.11 L443.49,193.12 L439.50,193.13 L435.51,193.14 L431.52,193.15 L427.53,193.16 L423.54,193.17 L419.55,193.18 L415.56,193.18 L411.57,193.19 L407.58,193.20 L403.59,193.21 L399.60,193.21 L395.61,193.22 L391.62,193.23 L387.63,193.23 L383.64,193.24" fill="none" stroke="#2020c4" stroke-width="1.0" stroke-linejoin="round"/>
<path d="M639.00,174.60 L635.01,179.65 L631.02,183.34 L627.03,186.04 L623.04,188.01 L619.05,189.46 L615.06,190.52 L611.07,191.29 L607.08,191.86 L603.09,192.24 L599.10,192.28 L595.11,192.32 L591.12,192.36 L587.13,192.39 L583.14,192.43 L579.15,192.46 L575.16,192.50 L571.17,192.53 L567.18,192.56 L563.19,192.59 L559.20,192.62 L555.21,192.64 L551.22,192.67 L547.23,192.70 L543.24,192.72 L539.25,192.74 L535.26,192.77 L531.27,192.79 L527.28,192.81 L523.29,192.83 L519.30,192.85 L515.31,192.87 L511.32,192.89 L507.33,192.91 L503.34,192.92 L499.35,192.94 L495.36,192.96 L491.37,192.97 L487.38,192.99 L483.39,193.00 L479.40,193.02 L475.41,193.03 L471.42,193.04 L467.43,193.06 L463.44,193.07 L459.45,193.08 L455.46,193.09 L451.47,193.10 L447.48,193.11 L443.49,193.12 L439.50,193.13 L435.51,193.14 L431.52,193.15 L427.53,193.16 L423.54,193.17 L419.55,193.18 L415.56,193.18 L411.57,193.19 L407.58,193.20 L403.59,193.21 L399.60,193.21 L395.61,193.22 L391.62,193.23 L387.63,193.23 L383.64,193.24" fill="none" stroke="#2020c4" stroke-width="1.0" stroke-linejoin="round"/>
<path d="M639.00,175.40 L635.01,175.47 L631.02,175.68 L627.03,176.02 L623.04,176.49 L619.05,177.07 L615.06,177.76 L611.07,178.54 L607.08,179.38 L603.09,180.28 L599.10,181.22 L595.11,182.18 L591.12,183.14 L587.13,184.10 L583.14,185.03 L579.15,185.93 L575.16,186.78 L571.17,187.58 L567.18,188.32 L563.19,189.01 L559.20,189.63 L555.21,190.19 L551.22,190.68 L547.23,191.12 L543.24,191.50 L539.25,191.83 L535.26,192.12 L531.27,192.36 L527.28,192.56 L523.29,192.73 L519.30,192.86 L515.31,192.98 L511.32,193.07 L507.33,193.14 L503.34,193.20 L499.35,193.25 L495.36,193.29 L491.37,193.31 L487.38,193.34 L483.39,193.35 L479.40,193.37 L475.41,193.37 L471.42,193.38 L467.43,193.39 L463.44,193.39 L459.45,193.39 L455.46,193.40 L451.47,193.40 L447.48,193.40 L443.49,193.40 L439.50,193.40 L435.51,193.40 L431.52,193.40 L427.53,193.40 L423.54,193.40 L419.55,193.40 L415.56,193.40 L411.57,193.40 L407.58,193.40 L403.59,193.40 L399.60,193.40 L395.61,193.40 L391.62,193.40 L387.63,193.40 L383.64,193.40" fill="none" stroke="#2020c4" stroke-width="1.0" stroke-linejoin="round"/>
<path d="M639.00,175.40 L635.01,176.68 L631.02,178.20 L627.03,179.73 L623.04,181.19 L619.05,182.56 L615.06,183.83 L611.07,184.98 L607.08,186.02 L603.09,186.96 L599.10,187.79 L595.11,188.53 L591.12,189.18 L587.13,189.76 L583.14,190.26 L579.15,190.70 L575.16,191.08 L571.17,191.41 L567.18,191.70 L563.19,191.95 L559.20,192.16 L555.21,192.35 L551.22,192.51 L547.23,192.64 L543.24,192.72 L539.25,192.74 L535.26,192.77 L531.27,192.79 L527.28,192.81 L523.29,192.83 L519.30,192.85 L515.31,192.87 L511.32,192.89 L507.33,192.91 L503.34,192.92 L499.35,192.94 L495.36,192.96 L491.37,192.97 L487.38,192.99 L483.39,193.00 L479.40,193.02 L475.41,193.03 L471.42,193.04 L467.43,193.06 L463.44,193.07 L459.45,193.08 L455.46,193.09 L451.47,193.10 L447.48,193.11 L443.49,193.12 L439.50,193.13 L435.51,193.14 L431.52,193.15 L427.53,193.16 L423.54,193.17 L419.55,193.18 L415.56,193.18 L411.57,193.19 L407.58,193.20 L403.59,193.21 L399.60,193.21 L395.61,193.22 L391.62,193.23 L387.63,193.23 L383.64,193.24" fill="none" stroke="#2020c4" stroke-width="1.0" stroke-linejoin="round"/>
<path d="M639.00,175.40 L635.01,180.23 L631.02,183.77 L627.03,186.35 L623.04,188.24 L619.05,189.63 L615.06,190.64 L611.07,191.38 L607.08,191.92 L603.09,192.24 L599.10,192.28 L595.11,192.32 L591.12,192.36 L587.13,192.39 L583.14,192.43 L579.15,192.46 L575.16,192.50 L571.17,192.53 L567.18,192.56 L563.19,192.59 L559.20,192.62 L555.21,192.64 L551.22,192.67 L547.23,192.70 L543.24,192.72 L539.25,192.74 L535.26,192.77 L531.27,192.79 L527.28,192.81 L523.29,192.83 L519.30,192.85 L515.31,192.87 L511.32,192.89 L507.33,192.91 L503.34,192.92 L499.35,192.94 L495.36,192.96 L491.37,192.97 L487.38,192.99 L483.39,193.00 L479.40,193.02 L475.41,193.03 L471.42,193.04 L467.43,193.06 L463.44,193.07 L459.45,193.08 L455.46,193.09 L451.47,193.10 L447.48,193.11 L443.49,193.12 L439.50,193.13 L435.51,193.14 L431.52,193.15 L427.53,193.16 L423.54,193.17 L419.55,193.18 L415.56,193.18 L411.57,193.19 L407.58,193.20 L403.59,193.21 L399.60,193.21 L395.61,193.22 L391.62,193.23 L387.63,193.23 L383.64,193.24" fill="none" stroke="#2020c4" stroke-width="1.0" stroke-linejoin="round"/>
<path d="M639.00,176.20 L635.01,176.27 L631.02,176.47 L627.03,176.79 L623.04,177.24 L619.05,177.80 L615.06,178.46 L611.07,179.20 L607.08,180.00 L603.09,180.87 L599.10,181.76 L595.11,182.68 L591.12,183.60 L587.13,184.51 L583.14,185.40 L579.15,186.26 L575.16,187.07 L571.17,187.84 L567.18,188.55 L563.19,189.20 L559.20,189.79 L555.21,190.33 L551.22,190.80 L547.23,191.22 L543.24,191.59 L539.25,191.90 L535.26,192.17 L531.27,192.40 L527.28,192.60 L523.29,192.76 L519.30,192.89 L515.31,193.00 L511.32,193.08 L507.33,193.16 L503.34,193.21 L499.35,193.26 L495.36,193.29 L491.37,193.32 L487.38,193.34 L483.39,193.35 L479.40,193.37 L475.41,193.38 L471.42,193.38 L467.43,193.39 L463.44,193.39 L459.45,193.39 L455.46,193.40 L451.47,193.40 L447.48,193.40 L443.49,193.40 L439.50,193.40 L435.51,193.40 L431.52,193.40 L427.53,193.40 L423.54,193.40 L419.55,193.40 L415.56,193.40 L411.57,193.40 L407.58,193.40 L403.59,193.40 L399.60,193.40 L395.61,193.40 L391.62,193.40 L387.63,193.40 L383.64,193.40" fill="none" stroke="#2020c4" stroke-width="1.0" stroke-linejoin="round"/>
<path d="M639.00,176.20 L635.01,177.42 L631.02,178.87 L627.03,180.33 L623.04,181.73 L619.05,183.05 L615.06,184.25 L611.07,185.36 L607.08,186.35 L603.09,187.24 L599.10,188.04 L595.11,188.75 L591.12,189.37 L587.13,189.92 L583.14,190.40 L579.15,190.82 L575.16,191.18 L571.17,191.50 L567.18,191.78 L563.19,192.01 L559.20,192.22 L555.21,192.39 L551.22,192.55 L547.23,192.68 L543.24,192.72 L539.25,192.74 L535.26,192.77 L531.27,192.79 L527.28,192.81 L523.29,192.83 L519.30,192.85 L515.31,192.87 L511.32,192.89 L507.33,192.91 L503.34,192.92 L499.35,192.94 L495.36,192.96 L491.37,192.97 L487.38,192.99 L483.39,193.00 L479.40,193.02 L475.41,193.03 L471.42,193.04 L467.43,193.06 L463.44,193.07 L459.45,193.08 L455.46,193.09 L451.47,193.10 L447.48,193.11 L443.49,193.12 L439.50,193.13 L435.51,193.14 L431.52,193.15 L427.53,193.16 L423.54,193.17 L419.55,193.18 L415.56,193.18 L411.57,193.19 L407.58,193.20 L403.59,193.21 L399.60,193.21 L395.61,193.22 L391.62,193.23 L387.63,193.23 L383.64,193.24" fill="none" stroke="#2020c4" stroke-width="1.0" stroke-linejoin="round"/>
<path d="M639.00,176.20 L635.01,180.82 L631.02,184.19 L627.03,186.66 L623.04,188.47 L619.05,189.79 L615.06,190.76 L611.07,191.47 L607.08,191.99 L603.09,192.24 L599.10,192.28 L595.11,192.32 L591.12,192.36 L587.13,192.39 L583.14,192.43 L579.15,192.46 L575.16,192.50 L571.17,192.53 L567.18,192.56 L563.19,192.59 L559.20,192.62 L555.21,192.64 L551.22,192.67 L547.23,192.70 L543.24,192.72 L539.25,192.74 L535.26,192.77 L531.27,192.79 L527.28,192.81 L523.29,192.83 L519.30,192.85 L515.31,192.87 L511.32,192.89 L507.33,192.91 L503.34,192.92 L499.35,192.94 L495.36,192.96 L491.37,192.97 L487.38,192.99 L483.39,193.00 L479.40,193.02 L475.41,193.03 L471.42,193.04 L467.43,193.06 L463.44,193.07 L459.45,193.08 L455.46,193.09 L451.47,193.10 L447.48,193.11 L443.49,193.12 L439.50,193.13 L435.51,193.14 L431.52,193.15 L427.53,193.16 L423.54,193.17 L419.55,193.18 L415.56,193.18 L411.57,193.19 L407.58,193.20 L403.59,193.21 L399.60,193.21 L395.61,193.22 L391.62,193.23 L387.63,193.23 L383.64,193.24" fill="none" stroke="#2020c4" stroke-width="1.0" stroke-linejoin="round"/>
<path d="M639.00,177.00 L635.01,177.06 L631.02,177.25 L627.03,177.57 L623.04,177.99 L619.05,178.53 L615.06,179.15 L611.07,179.86 L607.08,180.63 L603.09,181.45 L599.10,182.30 L595.11,183.18 L591.12,184.06 L587.13,184.92 L583.14,185.77 L579.15,186.59 L575.16,187.37 L571.17,188.10 L567.18,188.77 L563.19,189.40 L559.20,189.96 L555.21,190.47 L551.22,190.92 L547.23,191.32 L543.24,191.67 L539.25,191.97 L535.26,192.23 L531.27,192.45 L527.28,192.63 L523.29,192.79 L519.30,192.91 L515.31,193.02 L511.32,193.10 L507.33,193.17 L503.34,193.22 L499.35,193.26 L495.36,193.30 L491.37,193.32 L487.38,193.34 L483.39,193.36 L479.40,193.37 L475.41,193.38 L471.42,193.38 L467.43,193.39 L463.44,193.39 L459.45,193.39 L455.46,193.40 L451.47,193.40 L447.48,193.40 L443.49,193.40 L439.50,193.40 L435.51,193.40 L431.52,193.40 L427.53,193.40 L423.54,193.40 L419.55,193.40 L415.56,193.40 L411.57,193.40 L407.58,193.40 L403.59,193.40 L399.60,193.40 L395.61,193.40 L391.62,193.40 L387.63,193.40 L383.64,193.40" fill="none" stroke="#2020c4" stroke-width="1.0" stroke-linejoin="round"/>
<path d="M639.00,177.00 L635.01,178.16 L631.02,179.55 L627.03,180.94 L623.04,182.28 L619.05,183.53 L615.06,184.68 L611.07,185.73 L607.08,186.68 L603.09,187.53 L599.10,188.29 L595.11,188.96 L591.12,189.56 L587.13,190.08 L583.14,190.54 L579.15,190.94 L575.16,191.29 L571.17,191.59 L567.18,191.85 L563.19,192.08 L559.20,192.27 L555.21,192.44 L551.22,192.59 L547.23,192.70 L543.24,192.72 L539.25,192.74 L535.26,192.77 L531.27,192.79 L527.28,192.81 L523.29,192.83 L519.30,192.85 L515.31,192.87 L511.32,192.89 L507.33,192.91 L503.34,192.92 L499.35,192.94 L495.36,192.96 L491.37,192.97 L487.38,192.99 L483.39,193.00 L479.40,193.02 L475.41,193.03 L471.42,193.04 L467.43,193.06 L463.44,193.07 L459.45,193.08 L455.46,193.09 L451.47,193.10 L447.48,193.11 L443.49,193.12 L439.50,193.13 L435.51,193.14 L431.52,193.15 L427.53,193.16 L423.54,193.17 L419.55,193.18 L415.56,193.18 L411.57,193.19 L407.58,193.20 L403.59,193.21 L399.60,193.21 L395.61,193.22 L391.62,193.23 L387.63,193.23 L383.64,193.24" fill="none" stroke="#2020c4" stroke-width="1.0" stroke-linejoin="round"/>
<path d="M639.00,177.00 L635.01,181.40 L631.02,184.62 L627.03,186.98 L623.04,188.70 L619.05,189.96 L615.06,190.88 L611.07,191.56 L607.08,192.05 L603.09,192.24 L599.10,192.28 L595.11,192.32 L591.12,192.36 L587.13,192.39 L583.14,192.43 L579.15,192.46 L575.16,192.50 L571.17,192.53 L567.18,192.56 L563.19,192.59 L559.20,192.62 L555.21,192.64 L551.22,192.67 L547.23,192.70 L543.24,192.72 L539.25,192.74 L535.26,192.77 L531.27,192.79 L527.28,192.81 L523.29,192.83 L519.30,192.85 L515.31,192.87 L511.32,192.89 L507.33,192.91 L503.34,192.92 L499.35,192.94 L495.36,192.96 L491.37,192.97 L487.38,192.99 L483.39,193.00 L479.40,193.02 L475.41,193.03 L471.42,193.04 L467.43,193.06 L463.44,193.07 L459.45,193.08 L455.46,193.09 L451.47,193.10 L447.48,193.11 L443.49,193.12 L439.50,193.13 L435.51,193.14 L431.52,193.15 L427.53,193.16 L423.54,193.17 L419.55,193.18 L415.56,193.18 L411.57,193.19 L407.58,193.20 L403.59,193.21 L399.60,193.21 L395.61,193.22 L391.62,193.23 L387.63,193.23 L383.64,193.24" fill="none" stroke="#2020c4" stroke-width="1.0" stroke-linejoin="round"/>
<path d="M639.00,177.80 L635.01,177.86 L631.02,178.04 L627.03,178.34 L623.04,178.75 L619.05,179.25 L615.06,179.85 L611.07,180.52 L607.08,181.25 L603.09,182.03 L599.10,182.84 L595.11,183.68 L591.12,184.51 L587.13,185.34 L583.14,186.15 L579.15,186.92 L575.16,187.66 L571.17,188.36 L567.18,189.00 L563.19,189.59 L559.20,190.13 L555.21,190.61 L551.22,191.04 L547.23,191.42 L543.24,191.76 L539.25,192.04 L535.26,192.29 L531.27,192.50 L527.28,192.67 L523.29,192.82 L519.30,192.94 L515.31,193.03 L511.32,193.11 L507.33,193.18 L503.34,193.23 L499.35,193.27 L495.36,193.30 L491.37,193.33 L487.38,193.34 L483.39,193.36 L479.40,193.37 L475.41,193.38 L471.42,193.38 L467.43,193.39 L463.44,193.39 L459.45,193.39 L455.46,193.40 L451.47,193.40 L447.48,193.40 L443.49,193.40 L439.50,193.40 L435.51,193.40 L431.52,193.40 L427.53,193.40 L423.54,193.40 L419.55,193.40 L415.56,193.40 L411.57,193.40 L407.58,193.40 L403.59,193.40 L399.60,193.40 L395.61,193.40 L391.62,193.40 L387.63,193.40 L383.64,193.40" fill="none" stroke="#2020c4" stroke-width="1.0" stroke-linejoin="round"/>
<path d="M639.00,177.80 L635.01,178.91 L631.02,180.23 L627.03,181.55 L623.04,182.82 L619.05,184.01 L615.06,185.10 L611.07,186.10 L607.08,187.01 L603.09,187.82 L599.10,188.54 L595.11,189.18 L591.12,189.74 L587.13,190.24 L583.14,190.68 L579.15,191.06 L575.16,191.39 L571.17,191.68 L567.18,191.93 L563.19,192.14 L559.20,192.33 L555.21,192.49 L551.22,192.63 L547.23,192.70 L543.24,192.72 L539.25,192.74 L535.26,192.77 L531.27,192.79 L527.28,192.81 L523.29,192.83 L519.30,192.85 L515.31,192.87 L511.32,192.89 L507.33,192.91 L503.34,192.92 L499.35,192.94 L495.36,192.96 L491.37,192.97 L487.38,192.99 L483.39,193.00 L479.40,193.02 L475.41,193.03 L471.42,193.04 L467.43,193.06 L463.44,193.07 L459.45,193.08 L455.46,193.09 L451.47,193.10 L447.48,193.11 L443.49,193.12 L439.50,193.13 L435.51,193.14 L431.52,193.15 L427.53,193.16 L423.54,193.17 L419.55,193.18 L415.56,193.18 L411.57,193.19 L407.58,193.20 L403.59,193.21 L399.60,193.21 L395.61,193.22 L391.62,193.23 L387.63,193.23 L383.64,193.24" fill="none" stroke="#2020c4" stroke-width="1.0" stroke-linejoin="round"/>
<path d="M639.00,177.80 L635.01,181.99 L631.02,185.05 L627.03,187.29 L623.04,188.93 L619.05,190.13 L615.06,191.01 L611.07,191.65 L607.08,192.12 L603.09,192.24 L599.10,192.28 L595.11,192.32 L591.12,192.36 L587.13,192.39 L583.14,192.43 L579.15,192.46 L575.16,192.50 L571.17,192.53 L567.18,192.56 L563.19,192.59 L559.20,192.62 L555.21,192.64 L551.22,192.67 L547.23,192.70 L543.24,192.72 L539.25,192.74 L535.26,192.77 L531.27,192.79 L527.28,192.81 L523.29,192.83 L519.30,192.85 L515.31,192.87 L511.32,192.89 L507.33,192.91 L503.34,192.92 L499.35,192.94 L495.36,192.96 L491.37,192.97 L487.38,192.99 L483.39,193.00 L479.40,193.02 L475.41,193.03 L471.42,193.04 L467.43,193.06 L463.44,193.07 L459.45,193.08 L455.46,193.09 L451.47,193.10 L447.48,193.11 L443.49,193.12 L439.50,193.13 L435.51,193.14 L431.52,193.15 L427.53,193.16 L423.54,193.17 L419.55,193.18 L415.56,193.18 L411.57,193.19 L407.58,193.20 L403.59,193.21 L399.60,193.21 L395.61,193.22 L391.62,193.23 L387.63,193.23 L383.64,193.24" fill="none" stroke="#2020c4" stroke-width="1.0" stroke-linejoin="round"/>
<path d="M639.00,178.60 L635.01,178.66 L631.02,178.83 L627.03,179.11 L623.04,179.50 L619.05,179.98 L615.06,180.54 L611.07,181.18 L607.08,181.87 L603.09,182.61 L599.10,183.39 L595.11,184.17 L591.12,184.97 L587.13,185.75 L583.14,186.52 L579.15,187.25 L575.16,187.96 L571.17,188.61 L567.18,189.23 L563.19,189.79 L559.20,190.30 L555.21,190.76 L551.22,191.17 L547.23,191.53 L543.24,191.84 L539.25,192.11 L535.26,192.34 L531.27,192.54 L527.28,192.71 L523.29,192.85 L519.30,192.96 L515.31,193.05 L511.32,193.13 L507.33,193.19 L503.34,193.24 L499.35,193.28 L495.36,193.31 L491.37,193.33 L487.38,193.35 L483.39,193.36 L479.40,193.37 L475.41,193.38 L471.42,193.38 L467.43,193.39 L463.44,193.39 L459.45,193.39 L455.46,193.40 L451.47,193.40 L447.48,193.40 L443.49,193.40 L439.50,193.40 L435.51,193.40 L431.52,193.40 L427.53,193.40 L423.54,193.40 L419.55,193.40 L415.56,193.40 L411.57,193.40 L407.58,193.40 L403.59,193.40 L399.60,193.40 L395.61,193.40 L391.62,193.40 L387.63,193.40 L383.64,193.40" fill="none" stroke="#2020c4" stroke-width="1.0" stroke-linejoin="round"/>
<path d="M639.00,178.60 L635.01,179.65 L631.02,180.90 L627.03,182.16 L623.04,183.36 L619.05,184.49 L615.06,185.53 L611.07,186.48 L607.08,187.33 L603.09,188.10 L599.10,188.79 L595.11,189.39 L591.12,189.93 L587.13,190.40 L583.14,190.82 L579.15,191.18 L575.16,191.49 L571.17,191.77 L567.18,192.00 L563.19,192.21 L559.20,192.38 L555.21,192.54 L551.22,192.67 L547.23,192.70 L543.24,192.72 L539.25,192.74 L535.26,192.77 L531.27,192.79 L527.28,192.81 L523.29,192.83 L519.30,192.85 L515.31,192.87 L511.32,192.89 L507.33,192.91 L503.34,192.92 L499.35,192.94 L495.36,192.96 L491.37,192.97 L487.38,192.99 L483.39,193.00 L479.40,193.02 L475.41,193.03 L471.42,193.04 L467.43,193.06 L463.44,193.07 L459.45,193.08 L455.46,193.09 L451.47,193.10 L447.48,193.11 L443.49,193.12 L439.50,193.13 L435.51,193.14 L431.52,193.15 L427.53,193.16 L423.54,193.17 L419.55,193.18 L415.56,193.18 L411.57,193.19 L407.58,193.20 L403.59,193.21 L399.60,193.21 L395.61,193.22 L391.62,193.23 L387.63,193.23 L383.64,193.24" fill="none" stroke="#2020c4" stroke-width="1.0" stroke-linejoin="round"/>
<path d="M639.00,178.60 L635.01,182.57 L631.02,185.48 L627.03,187.60 L623.04,189.16 L619.05,190.30 L615.06,191.13 L611.07,191.74 L607.08,192.19 L603.09,192.24 L599.10,192.28 L595.11,192.32 L591.12,192.36 L587.13,192.39 L583.14,192.43 L579.15,192.46 L575.16,192.50 L571.17,192.53 L567.18,192.56 L563.19,192.59 L559.20,192.62 L555.21,192.64 L551.22,192.67 L547.23,192.70 L543.24,192.72 L539.25,192.74 L535.26,192.77 L531.27,192.79 L527.28,192.81 L523.29,192.83 L519.30,192.85 L515.31,192.87 L511.32,192.89 L507.33,192.91 L503.34,192.92 L499.35,192.94 L495.36,192.96 L491.37,192.97 L487.38,192.99 L483.39,193.00 L479.40,193.02 L475.41,193.03 L471.42,193.04 L467.43,193.06 L463.44,193.07 L459.45,193.08 L455.46,193.09 L451.47,193.10 L447.48,193.11 L443.49,193.12 L439.50,193.13 L435.51,193.14 L431.52,193.15 L427.53,193.16 L423.54,193.17 L419.55,193.18 L415.56,193.18 L411.57,193.19 L407.58,193.20 L403.59,193.21 L399.60,193.21 L395.61,193.22 L391.62,193.23 L387.63,193.23 L383.64,193.24" fill="none" stroke="#2020c4" stroke-width="1.0" stroke-linejoin="round"/>
<path d="M639.00,179.40 L635.01,179.45 L631.02,179.62 L627.03,179.88 L623.04,180.25 L619.05,180.70 L615.06,181.24 L611.07,181.84 L607.08,182.50 L603.09,183.20 L599.10,183.93 L595.11,184.67 L591.12,185.42 L587.13,186.17 L583.14,186.89 L579.15,187.59 L575.16,188.25 L571.17,188.87 L567.18,189.45 L563.19,189.98 L559.20,190.47 L555.21,190.90 L551.22,191.29 L547.23,191.63 L543.24,191.92 L539.25,192.18 L535.26,192.40 L531.27,192.59 L527.28,192.75 L523.29,192.88 L519.30,192.98 L515.31,193.07 L511.32,193.14 L507.33,193.20 L503.34,193.25 L499.35,193.28 L495.36,193.31 L491.37,193.33 L487.38,193.35 L483.39,193.36 L479.40,193.37 L475.41,193.38 L471.42,193.39 L467.43,193.39 L463.44,193.39 L459.45,193.39 L455.46,193.40 L451.47,193.40 L447.48,193.40 L443.49,193.40 L439.50,193.40 L435.51,193.40 L431.52,193.40 L427.53,193.40 L423.54,193.40 L419.55,193.40 L415.56,193.40 L411.57,193.40 L407.58,193.40 L403.59,193.40 L399.60,193.40 L395.61,193.40 L391.62,193.40 L387.63,193.40 L383.64,193.40" fill="none" stroke="#2020c4" stroke-width="1.0" stroke-linejoin="round"/>
<path d="M639.00,179.40 L635.01,180.39 L631.02,181.58 L627.03,182.76 L623.04,183.90 L619.05,184.97 L615.06,185.96 L611.07,186.85 L607.08,187.66 L603.09,188.39 L599.10,189.04 L595.11,189.61 L591.12,190.12 L587.13,190.57 L583.14,190.96 L579.15,191.30 L575.16,191.60 L571.17,191.85 L567.18,192.08 L563.19,192.27 L559.20,192.44 L555.21,192.58 L551.22,192.67 L547.23,192.70 L543.24,192.72 L539.25,192.74 L535.26,192.77 L531.27,192.79 L527.28,192.81 L523.29,192.83 L519.30,192.85 L515.31,192.87 L511.32,192.89 L507.33,192.91 L503.34,192.92 L499.35,192.94 L495.36,192.96 L491.37,192.97 L487.38,192.99 L483.39,193.00 L479.40,193.02 L475.41,193.03 L471.42,193.04 L467.43,193.06 L463.44,193.07 L459.45,193.08 L455.46,193.09 L451.47,193.10 L447.48,193.11 L443.49,193.12 L439.50,193.13 L435.51,193.14 L431.52,193.15 L427.53,193.16 L423.54,193.17 L419.55,193.18 L415.56,193.18 L411.57,193.19 L407.58,193.20 L403.59,193.21 L399.60,193.21 L395.61,193.22 L391.62,193.23 L387.63,193.23 L383.64,193.24" fill="none" stroke="#2020c4" stroke-width="1.0" stroke-linejoin="round"/>
<path d="M639.00,179.40 L635.01,183.16 L631.02,185.91 L627.03,187.92 L623.04,189.39 L619.05,190.47 L615.06,191.25 L611.07,191.83 L607.08,192.20 L603.09,192.24 L599.10,192.28 L595.11,192.32 L591.12,192.36 L587.13,192.39 L583.14,192.43 L579.15,192.46 L575.16,192.50 L571.17,192.53 L567.18,192.56 L563.19,192.59 L559.20,192.62 L555.21,192.64 L551.22,192.67 L547.23,192.70 L543.24,192.72 L539.25,192.74 L535.26,192.77 L531.27,192.79 L527.28,192.81 L523.29,192.83 L519.30,192.85 L515.31,192.87 L511.32,192.89 L507.33,192.91 L503.34,192.92 L499.35,192.94 L495.36,192.96 L491.37,192.97 L487.38,192.99 L483.39,193.00 L479.40,193.02 L475.41,193.03 L471.42,193.04 L467.43,193.06 L463.44,193.07 L459.45,193.08 L455.46,193.09 L451.47,193.10 L447.48,193.11 L443.49,193.12 L439.50,193.13 L435.51,193.14 L431.52,193.15 L427.53,193.16 L423.54,193.17 L419.55,193.18 L415.56,193.18 L411.57,193.19 L407.58,193.20 L403.59,193.21 L399.60,193.21 L395.61,193.22 L391.62,193.23 L387.63,193.23 L383.64,193.24" fill="none" stroke="#2020c4" stroke-width="1.0" stroke-linejoin="round"/>
<path d="M639.00,180.20 L635.01,180.25 L631.02,180.40 L627.03,180.66 L623.04,181.00 L619.05,181.43 L615.06,181.93 L611.07,182.50 L607.08,183.12 L603.09,183.78 L599.10,184.47 L595.11,185.17 L591.12,185.88 L587.13,186.58 L583.14,187.26 L579.15,187.92 L575.16,188.54 L571.17,189.13 L567.18,189.68 L563.19,190.18 L559.20,190.63 L555.21,191.04 L551.22,191.41 L547.23,191.73 L543.24,192.01 L539.25,192.25 L535.26,192.46 L531.27,192.63 L527.28,192.78 L523.29,192.91 L519.30,193.01 L515.31,193.09 L511.32,193.16 L507.33,193.21 L503.34,193.26 L499.35,193.29 L495.36,193.32 L491.37,193.34 L487.38,193.35 L483.39,193.37 L479.40,193.37 L475.41,193.38 L471.42,193.39 L467.43,193.39 L463.44,193.39 L459.45,193.40 L455.46,193.40 L451.47,193.40 L447.48,193.40 L443.49,193.40 L439.50,193.40 L435.51,193.40 L431.52,193.40 L427.53,193.40 L423.54,193.40 L419.55,193.40 L415.56,193.40 L411.57,193.40 L407.58,193.40 L403.59,193.40 L399.60,193.40 L395.61,193.40 L391.62,193.40 L387.63,193.40 L383.64,193.40" fill="none" stroke="#2020c4" stroke-width="1.0" stroke-linejoin="round"/>
<path d="M639.00,180.20 L635.01,181.14 L631.02,182.25 L627.03,183.37 L623.04,184.45 L619.05,185.45 L615.06,186.38 L611.07,187.23 L607.08,187.99 L603.09,188.67 L599.10,189.29 L595.11,189.83 L591.12,190.31 L587.13,190.73 L583.14,191.10 L579.15,191.42 L575.16,191.70 L571.17,191.94 L567.18,192.15 L563.19,192.34 L559.20,192.49 L555.21,192.63 L551.22,192.67 L547.23,192.70 L543.24,192.72 L539.25,192.74 L535.26,192.77 L531.27,192.79 L527.28,192.81 L523.29,192.83 L519.30,192.85 L515.31,192.87 L511.32,192.89 L507.33,192.91 L503.34,192.92 L499.35,192.94 L495.36,192.96 L491.37,192.97 L487.38,192.99 L483.39,193.00 L479.40,193.02 L475.41,193.03 L471.42,193.04 L467.43,193.06 L463.44,193.07 L459.45,193.08 L455.46,193.09 L451.47,193.10 L447.48,193.11 L443.49,193.12 L439.50,193.13 L435.51,193.14 L431.52,193.15 L427.53,193.16 L423.54,193.17 L419.55,193.18 L415.56,193.18 L411.57,193.19 L407.58,193.20 L403.59,193.21 L399.60,193.21 L395.61,193.22 L391.62,193.23 L387.63,193.23 L383.64,193.24" fill="none" stroke="#2020c4" stroke-width="1.0" stroke-linejoin="round"/>
<path d="M639.00,180.20 L635.01,183.74 L631.02,186.33 L627.03,188.23 L623.04,189.62 L619.05,190.63 L615.06,191.38 L611.07,191.92 L607.08,192.20 L603.09,192.24 L599.10,192.28 L595.11,192.32 L591.12,192.36 L587.13,192.39 L583.14,192.43 L579.15,192.46 L575.16,192.50 L571.17,192.53 L567.18,192.56 L563.19,192.59 L559.20,192.62 L555.21,192.64 L551.22,192.67 L547.23,192.70 L543.24,192.72 L539.25,192.74 L535.26,192.77 L531.27,192.79 L527.28,192.81 L523.29,192.83 L519.30,192.85 L515.31,192.87 L511.32,192.89 L507.33,192.91 L503.34,192.92 L499.35,192.94 L495.36,192.96 L491.37,192.97 L487.38,192.99 L483.39,193.00 L479.40,193.02 L475.41,193.03 L471.42,193.04 L467.43,193.06 L463.44,193.07 L459.45,193.08 L455.46,193.09 L451.47,193.10 L447.48,193.11 L443.49,193.12 L439.50,193.13 L435.51,193.14 L431.52,193.15 L427.53,193.16 L423.54,193.17 L419.55,193.18 L415.56,193.18 L411.57,193.19 L407.58,193.20 L403.59,193.21 L399.60,193.21 L395.61,193.22 L391.62,193.23 L387.63,193.23 L383.64,193.24" fill="none" stroke="#2020c4" stroke-width="1.0" stroke-linejoin="round"/>
<path d="M639.00,181.00 L635.01,181.05 L631.02,181.19 L627.03,181.43 L623.04,181.75 L619.05,182.15 L615.06,182.63 L611.07,183.16 L607.08,183.74 L603.09,184.36 L599.10,185.01 L595.11,185.67 L591.12,186.33 L587.13,186.99 L583.14,187.63 L579.15,188.25 L575.16,188.84 L571.17,189.39 L567.18,189.90 L563.19,190.37 L559.20,190.80 L555.21,191.19 L551.22,191.53 L547.23,191.83 L543.24,192.09 L539.25,192.32 L535.26,192.52 L531.27,192.68 L527.28,192.82 L523.29,192.94 L519.30,193.03 L515.31,193.11 L511.32,193.17 L507.33,193.22 L503.34,193.26 L499.35,193.30 L495.36,193.32 L491.37,193.34 L487.38,193.36 L483.39,193.37 L479.40,193.38 L475.41,193.38 L471.42,193.39 L467.43,193.39 L463.44,193.39 L459.45,193.40 L455.46,193.40 L451.47,193.40 L447.48,193.40 L443.49,193.40 L439.50,193.40 L435.51,193.40 L431.52,193.40 L427.53,193.40 L423.54,193.40 L419.55,193.40 L415.56,193.40 L411.57,193.40 L407.58,193.40 L403.59,193.40 L399.60,193.40 L395.61,193.40 L391.62,193.40 L387.63,193.40 L383.64,193.40" fill="none" stroke="#2020c4" stroke-width="1.0" stroke-linejoin="round"/>
<path d="M639.00,181.00 L635.01,181.88 L631.02,182.93 L627.03,183.98 L623.04,184.99 L619.05,185.93 L615.06,186.81 L611.07,187.60 L607.08,188.32 L603.09,188.96 L599.10,189.54 L595.11,190.04 L591.12,190.49 L587.13,190.89 L583.14,191.24 L579.15,191.54 L575.16,191.80 L571.17,192.03 L567.18,192.23 L563.19,192.40 L559.20,192.55 L555.21,192.64 L551.22,192.67 L547.23,192.70 L543.24,192.72 L539.25,192.74 L535.26,192.77 L531.27,192.79 L527.28,192.81 L523.29,192.83 L519.30,192.85 L515.31,192.87 L511.32,192.89 L507.33,192.91 L503.34,192.92 L499.35,192.94 L495.36,192.96 L491.37,192.97 L487.38,192.99 L483.39,193.00 L479.40,193.02 L475.41,193.03 L471.42,193.04 L467.43,193.06 L463.44,193.07 L459.45,193.08 L455.46,193.09 L451.47,193.10 L447.48,193.11 L443.49,193.12 L439.50,193.13 L435.51,193.14 L431.52,193.15 L427.53,193.16 L423.54,193.17 L419.55,193.18 L415.56,193.18 L411.57,193.19 L407.58,193.20 L403.59,193.21 L399.60,193.21 L395.61,193.22 L391.62,193.23 L387.63,193.23 L383.64,193.24" fill="none" stroke="#2020c4" stroke-width="1.0" stroke-linejoin="round"/>
<path d="M639.00,181.00 L635.01,184.33 L631.02,186.76 L627.03,188.54 L623.04,189.85 L619.05,190.80 L615.06,191.50 L611.07,192.01 L607.08,192.20 L603.09,192.24 L599.10,192.28 L595.11,192.32 L591.12,192.36 L587.13,192.39 L583.14,192.43 L579.15,192.46 L575.16,192.50 L571.17,192.53 L567.18,192.56 L563.19,192.59 L559.20,192.62 L555.21,192.64 L551.22,192.67 L547.23,192.70 L543.24,192.72 L539.25,192.74 L535.26,192.77 L531.27,192.79 L527.28,192.81 L523.29,192.83 L519.30,192.85 L515.31,192.87 L511.32,192.89 L507.33,192.91 L503.34,192.92 L499.35,192.94 L495.36,192.96 L491.37,192.97 L487.38,192.99 L483.39,193.00 L479.40,193.02 L475.41,193.03 L471.42,193.04 L467.43,193.06 L463.44,193.07 L459.45,193.08 L455.46,193.09 L451.47,193.10 L447.48,193.11 L443.49,193.12 L439.50,193.13 L435.51,193.14 L431.52,193.15 L427.53,193.16 L423.54,193.17 L419.55,193.18 L415.56,193.18 L411.57,193.19 L407.58,193.20 L403.59,193.21 L399.60,193.21 L395.61,193.22 L391.62,193.23 L387.63,193.23 L383.64,193.24" fill="none" stroke="#2020c4" stroke-width="1.0" stroke-linejoin="round"/>
<path d="M639.00,181.80 L635.01,181.85 L631.02,181.98 L627.03,182.20 L623.04,182.50 L619.05,182.88 L615.06,183.32 L611.07,183.82 L607.08,184.37 L603.09,184.95 L599.10,185.55 L595.11,186.17 L591.12,186.79 L587.13,187.41 L583.14,188.01 L579.15,188.58 L575.16,189.13 L571.17,189.65 L567.18,190.13 L563.19,190.57 L559.20,190.97 L555.21,191.33 L551.22,191.65 L547.23,191.93 L543.24,192.18 L539.25,192.39 L535.26,192.57 L531.27,192.73 L527.28,192.86 L523.29,192.97 L519.30,193.06 L515.31,193.13 L511.32,193.19 L507.33,193.24 L503.34,193.27 L499.35,193.30 L495.36,193.33 L491.37,193.34 L487.38,193.36 L483.39,193.37 L479.40,193.38 L475.41,193.38 L471.42,193.39 L467.43,193.39 L463.44,193.39 L459.45,193.40 L455.46,193.40 L451.47,193.40 L447.48,193.40 L443.49,193.40 L439.50,193.40 L435.51,193.40 L431.52,193.40 L427.53,193.40 L423.54,193.40 L419.55,193.40 L415.56,193.40 L411.57,193.40 L407.58,193.40 L403.59,193.40 L399.60,193.40 L395.61,193.40 L391.62,193.40 L387.63,193.40 L383.64,193.40" fill="none" stroke="#2020c4" stroke-width="1.0" stroke-linejoin="round"/>
<path d="M639.00,181.80 L635.01,182.62 L631.02,183.60 L627.03,184.59 L623.04,185.53 L619.05,186.42 L615.06,187.23 L611.07,187.97 L607.08,188.65 L603.09,189.25 L599.10,189.78 L595.11,190.26 L591.12,190.68 L587.13,191.05 L583.14,191.38 L579.15,191.66 L575.16,191.91 L571.17,192.12 L567.18,192.30 L563.19,192.47 L559.20,192.60 L555.21,192.64 L551.22,192.67 L547.23,192.70 L543.24,192.72 L539.25,192.74 L535.26,192.77 L531.27,192.79 L527.28,192.81 L523.29,192.83 L519.30,192.85 L515.31,192.87 L511.32,192.89 L507.33,192.91 L503.34,192.92 L499.35,192.94 L495.36,192.96 L491.37,192.97 L487.38,192.99 L483.39,193.00 L479.40,193.02 L475.41,193.03 L471.42,193.04 L467.43,193.06 L463.44,193.07 L459.45,193.08 L455.46,193.09 L451.47,193.10 L447.48,193.11 L443.49,193.12 L439.50,193.13 L435.51,193.14 L431.52,193.15 L427.53,193.16 L423.54,193.17 L419.55,193.18 L415.56,193.18 L411.57,193.19 L407.58,193.20 L403.59,193.21 L399.60,193.21 L395.61,193.22 L391.62,193.23 L387.63,193.23 L383.64,193.24" fill="none" stroke="#2020c4" stroke-width="1.0" stroke-linejoin="round"/>
<path d="M639.00,181.80 L635.01,184.91 L631.02,187.19 L627.03,188.86 L623.04,190.08 L619.05,190.97 L615.06,191.62 L611.07,192.10 L607.08,192.20 L603.09,192.24 L599.10,192.28 L595.11,192.32 L591.12,192.36 L587.13,192.39 L583.14,192.43 L579.15,192.46 L575.16,192.50 L571.17,192.53 L567.18,192.56 L563.19,192.59 L559.20,192.62 L555.21,192.64 L551.22,192.67 L547.23,192.70 L543.24,192.72 L539.25,192.74 L535.26,192.77 L531.27,192.79 L527.28,192.81 L523.29,192.83 L519.30,192.85 L515.31,192.87 L511.32,192.89 L507.33,192.91 L503.34,192.92 L499.35,192.94 L495.36,192.96 L491.37,192.97 L487.38,192.99 L483.39,193.00 L479.40,193.02 L475.41,193.03 L471.42,193.04 L467.43,193.06 L463.44,193.07 L459.45,193.08 L455.46,193.09 L451.47,193.10 L447.48,193.11 L443.49,193.12 L439.50,193.13 L435.51,193.14 L431.52,193.15 L427.53,193.16 L423.54,193.17 L419.55,193.18 L415.56,193.18 L411.57,193.19 L407.58,193.20 L403.59,193.21 L399.60,193.21 L395.61,193.22 L391.62,193.23 L387.63,193.23 L383.64,193.24" fill="none" stroke="#2020c4" stroke-width="1.0" stroke-linejoin="round"/>
<path d="M639.00,182.60 L635.01,182.64 L631.02,182.77 L627.03,182.97 L623.04,183.25 L619.05,183.60 L615.06,184.02 L611.07,184.48 L607.08,184.99 L603.09,185.53 L599.10,186.09 L595.11,186.67 L591.12,187.25 L587.13,187.82 L583.14,188.38 L579.15,188.92 L575.16,189.43 L571.17,189.91 L567.18,190.35 L563.19,190.76 L559.20,191.14 L555.21,191.47 L551.22,191.77 L547.23,192.03 L543.24,192.26 L539.25,192.46 L535.26,192.63 L531.27,192.77 L527.28,192.89 L523.29,193.00 L519.30,193.08 L515.31,193.15 L511.32,193.20 L507.33,193.25 L503.34,193.28 L499.35,193.31 L495.36,193.33 L491.37,193.35 L487.38,193.36 L483.39,193.37 L479.40,193.38 L475.41,193.38 L471.42,193.39 L467.43,193.39 L463.44,193.39 L459.45,193.40 L455.46,193.40 L451.47,193.40 L447.48,193.40 L443.49,193.40 L439.50,193.40 L435.51,193.40 L431.52,193.40 L427.53,193.40 L423.54,193.40 L419.55,193.40 L415.56,193.40 L411.57,193.40 L407.58,193.40 L403.59,193.40 L399.60,193.40 L395.61,193.40 L391.62,193.40 L387.63,193.40 L383.64,193.40" fill="none" stroke="#2020c4" stroke-width="1.0" stroke-linejoin="round"/>
<path d="M639.00,182.60 L635.01,183.37 L631.02,184.28 L627.03,185.20 L623.04,186.07 L619.05,186.90 L615.06,187.66 L611.07,188.35 L607.08,188.97 L603.09,189.53 L599.10,190.03 L595.11,190.48 L591.12,190.87 L587.13,191.21 L583.14,191.52 L579.15,191.78 L575.16,192.01 L571.17,192.21 L567.18,192.38 L563.19,192.53 L559.20,192.62 L555.21,192.64 L551.22,192.67 L547.23,192.70 L543.24,192.72 L539.25,192.74 L535.26,192.77 L531.27,192.79 L527.28,192.81 L523.29,192.83 L519.30,192.85 L515.31,192.87 L511.32,192.89 L507.33,192.91 L503.34,192.92 L499.35,192.94 L495.36,192.96 L491.37,192.97 L487.38,192.99 L483.39,193.00 L479.40,193.02 L475.41,193.03 L471.42,193.04 L467.43,193.06 L463.44,193.07 L459.45,193.08 L455.46,193.09 L451.47,193.10 L447.48,193.11 L443.49,193.12 L439.50,193.13 L435.51,193.14 L431.52,193.15 L427.53,193.16 L423.54,193.17 L419.55,193.18 L415.56,193.18 L411.57,193.19 L407.58,193.20 L403.59,193.21 L399.60,193.21 L395.61,193.22 L391.62,193.23 L387.63,193.23 L383.64,193.24" fill="none" stroke="#2020c4" stroke-width="1.0" stroke-linejoin="round"/>
<path d="M639.00,182.60 L635.01,185.50 L631.02,187.62 L627.03,189.17 L623.04,190.31 L619.05,191.14 L615.06,191.74 L611.07,192.15 L607.08,192.20 L603.09,192.24 L599.10,192.28 L595.11,192.32 L591.12,192.36 L587.13,192.39 L583.14,192.43 L579.15,192.46 L575.16,192.50 L571.17,192.53 L567.18,192.56 L563.19,192.59 L559.20,192.62 L555.21,192.64 L551.22,192.67 L547.23,192.70 L543.24,192.72 L539.25,192.74 L535.26,192.77 L531.27,192.79 L527.28,192.81 L523.29,192.83 L519.30,192.85 L515.31,192.87 L511.32,192.89 L507.33,192.91 L503.34,192.92 L499.35,192.94 L495.36,192.96 L491.37,192.97 L487.38,192.99 L483.39,193.00 L479.40,193.02 L475.41,193.03 L471.42,193.04 L467.43,193.06 L463.44,193.07 L459.45,193.08 L455.46,193.09 L451.47,193.10 L447.48,193.11 L443.49,193.12 L439.50,193.13 L435.51,193.14 L431.52,193.15 L427.53,193.16 L423.54,193.17 L419.55,193.18 L415.56,193.18 L411.57,193.19 L407.58,193.20 L403.59,193.21 L399.60,193.21 L395.61,193.22 L391.62,193.23 L387.63,193.23 L383.64,193.24" fill="none" stroke="#2020c4" stroke-width="1.0" stroke-linejoin="round"/>
<path d="M639.00,183.40 L635.01,183.44 L631.02,183.56 L627.03,183.75 L623.04,184.01 L619.05,184.33 L615.06,184.71 L611.07,185.14 L607.08,185.61 L603.09,186.11 L599.10,186.63 L595.11,187.17 L591.12,187.70 L587.13,188.23 L583.14,188.75 L579.15,189.25 L575.16,189.72 L571.17,190.17 L567.18,190.58 L563.19,190.96 L559.20,191.30 L555.21,191.61 L551.22,191.89 L547.23,192.13 L543.24,192.35 L539.25,192.53 L535.26,192.69 L531.27,192.82 L527.28,192.93 L523.29,193.03 L519.30,193.10 L515.31,193.17 L511.32,193.22 L507.33,193.26 L503.34,193.29 L499.35,193.32 L495.36,193.34 L491.37,193.35 L487.38,193.36 L483.39,193.37 L479.40,193.38 L475.41,193.39 L471.42,193.39 L467.43,193.39 L463.44,193.39 L459.45,193.40 L455.46,193.40 L451.47,193.40 L447.48,193.40 L443.49,193.40 L439.50,193.40 L435.51,193.40 L431.52,193.40 L427.53,193.40 L423.54,193.40 L419.55,193.40 L415.56,193.40 L411.57,193.40 L407.58,193.40 L403.59,193.40 L399.60,193.40 L395.61,193.40 L391.62,193.40 L387.63,193.40 L383.64,193.40" fill="none" stroke="#2020c4" stroke-width="1.0" stroke-linejoin="round"/>
<path d="M639.00,183.40 L635.01,184.11 L631.02,184.95 L627.03,185.80 L623.04,186.62 L619.05,187.38 L615.06,188.08 L611.07,188.72 L607.08,189.30 L603.09,189.82 L599.10,190.28 L595.11,190.69 L591.12,191.06 L587.13,191.38 L583.14,191.65 L579.15,191.90 L575.16,192.11 L571.17,192.30 L567.18,192.46 L563.19,192.59 L559.20,192.62 L555.21,192.64 L551.22,192.67 L547.23,192.70 L543.24,192.72 L539.25,192.74 L535.26,192.77 L531.27,192.79 L527.28,192.81 L523.29,192.83 L519.30,192.85 L515.31,192.87 L511.32,192.89 L507.33,192.91 L503.34,192.92 L499.35,192.94 L495.36,192.96 L491.37,192.97 L487.38,192.99 L483.39,193.00 L479.40,193.02 L475.41,193.03 L471.42,193.04 L467.43,193.06 L463.44,193.07 L459.45,193.08 L455.46,193.09 L451.47,193.10 L447.48,193.11 L443.49,193.12 L439.50,193.13 L435.51,193.14 L431.52,193.15 L427.53,193.16 L423.54,193.17 L419.55,193.18 L415.56,193.18 L411.57,193.19 L407.58,193.20 L403.59,193.21 L399.60,193.21 L395.61,193.22 L391.62,193.23 L387.63,193.23 L383.64,193.24" fill="none" stroke="#2020c4" stroke-width="1.0" stroke-linejoin="round"/>
<path d="M639.00,183.40 L635.01,186.08 L631.02,188.05 L627.03,189.48 L623.04,190.53 L619.05,191.30 L615.06,191.87 L611.07,192.15 L607.08,192.20 L603.09,192.24 L599.10,192.28 L595.11,192.32 L591.12,192.36 L587.13,192.39 L583.14,192.43 L579.15,192.46 L575.16,192.50 L571.17,192.53 L567.18,192.56 L563.19,192.59 L559.20,192.62 L555.21,192.64 L551.22,192.67 L547.23,192.70 L543.24,192.72 L539.25,192.74 L535.26,192.77 L531.27,192.79 L527.28,192.81 L523.29,192.83 L519.30,192.85 L515.31,192.87 L511.32,192.89 L507.33,192.91 L503.34,192.92 L499.35,192.94 L495.36,192.96 L491.37,192.97 L487.38,192.99 L483.39,193.00 L479.40,193.02 L475.41,193.03 L471.42,193.04 L467.43,193.06 L463.44,193.07 L459.45,193.08 L455.46,193.09 L451.47,193.10 L447.48,193.11 L443.49,193.12 L439.50,193.13 L435.51,193.14 L431.52,193.15 L427.53,193.16 L423.54,193.17 L419.55,193.18 L415.56,193.18 L411.57,193.19 L407.58,193.20 L403.59,193.21 L399.60,193.21 L395.61,193.22 L391.62,193.23 L387.63,193.23 L383.64,193.24" fill="none" stroke="#2020c4" stroke-width="1.0" stroke-linejoin="round"/>
<path d="M639.00,184.10 L635.01,184.14 L631.02,184.24 L627.03,184.42 L623.04,184.66 L619.05,184.97 L615.06,185.32 L611.07,185.72 L607.08,186.16 L603.09,186.62 L599.10,187.11 L595.11,187.60 L591.12,188.10 L587.13,188.59 L583.14,189.08 L579.15,189.54 L575.16,189.98 L571.17,190.39 L567.18,190.78 L563.19,191.13 L559.20,191.45 L555.21,191.74 L551.22,192.00 L547.23,192.22 L543.24,192.42 L539.25,192.59 L535.26,192.74 L531.27,192.86 L527.28,192.97 L523.29,193.05 L519.30,193.12 L515.31,193.18 L511.32,193.23 L507.33,193.27 L503.34,193.30 L499.35,193.32 L495.36,193.34 L491.37,193.36 L487.38,193.37 L483.39,193.38 L479.40,193.38 L475.41,193.39 L471.42,193.39 L467.43,193.39 L463.44,193.40 L459.45,193.40 L455.46,193.40 L451.47,193.40 L447.48,193.40 L443.49,193.40 L439.50,193.40 L435.51,193.40 L431.52,193.40 L427.53,193.40 L423.54,193.40 L419.55,193.40 L415.56,193.40 L411.57,193.40 L407.58,193.40 L403.59,193.40 L399.60,193.40 L395.61,193.40 L391.62,193.40 L387.63,193.40 L383.64,193.40" fill="none" stroke="#2020c4" stroke-width="1.0" stroke-linejoin="round"/>
<path d="M639.00,184.10 L635.01,184.76 L631.02,185.55 L627.03,186.34 L623.04,187.09 L619.05,187.80 L615.06,188.45 L611.07,189.05 L607.08,189.59 L603.09,190.07 L599.10,190.50 L595.11,190.88 L591.12,191.22 L587.13,191.52 L583.14,191.78 L579.15,192.00 L575.16,192.20 L571.17,192.37 L567.18,192.52 L563.19,192.59 L559.20,192.62 L555.21,192.64 L551.22,192.67 L547.23,192.70 L543.24,192.72 L539.25,192.74 L535.26,192.77 L531.27,192.79 L527.28,192.81 L523.29,192.83 L519.30,192.85 L515.31,192.87 L511.32,192.89 L507.33,192.91 L503.34,192.92 L499.35,192.94 L495.36,192.96 L491.37,192.97 L487.38,192.99 L483.39,193.00 L479.40,193.02 L475.41,193.03 L471.42,193.04 L467.43,193.06 L463.44,193.07 L459.45,193.08 L455.46,193.09 L451.47,193.10 L447.48,193.11 L443.49,193.12 L439.50,193.13 L435.51,193.14 L431.52,193.15 L427.53,193.16 L423.54,193.17 L419.55,193.18 L415.56,193.18 L411.57,193.19 L407.58,193.20 L403.59,193.21 L399.60,193.21 L395.61,193.22 L391.62,193.23 L387.63,193.23 L383.64,193.24" fill="none" stroke="#2020c4" stroke-width="1.0" stroke-linejoin="round"/>
<path d="M639.00,184.10 L635.01,186.60 L631.02,188.42 L627.03,189.76 L623.04,190.74 L619.05,191.45 L615.06,191.97 L611.07,192.15 L607.08,192.20 L603.09,192.24 L599.10,192.28 L595.11,192.32 L591.12,192.36 L587.13,192.39 L583.14,192.43 L579.15,192.46 L575.16,192.50 L571.17,192.53 L567.18,192.56 L563.19,192.59 L559.20,192.62 L555.21,192.64 L551.22,192.67 L547.23,192.70 L543.24,192.72 L539.25,192.74 L535.26,192.77 L531.27,192.79 L527.28,192.81 L523.29,192.83 L519.30,192.85 L515.31,192.87 L511.32,192.89 L507.33,192.91 L503.34,192.92 L499.35,192.94 L495.36,192.96 L491.37,192.97 L487.38,192.99 L483.39,193.00 L479.40,193.02 L475.41,193.03 L471.42,193.04 L467.43,193.06 L463.44,193.07 L459.45,193.08 L455.46,193.09 L451.47,193.10 L447.48,193.11 L443.49,193.12 L439.50,193.13 L435.51,193.14 L431.52,193.15 L427.53,193.16 L423.54,193.17 L419.55,193.18 L415.56,193.18 L411.57,193.19 L407.58,193.20 L403.59,193.21 L399.60,193.21 L395.61,193.22 L391.62,193.23 L387.63,193.23 L383.64,193.24" fill="none" stroke="#2020c4" stroke-width="1.0" stroke-linejoin="round"/>
<path d="M639.00,184.80 L635.01,184.83 L631.02,184.93 L627.03,185.10 L623.04,185.32 L619.05,185.60 L615.06,185.93 L611.07,186.30 L607.08,186.70 L603.09,187.13 L599.10,187.58 L595.11,188.04 L591.12,188.50 L587.13,188.96 L583.14,189.40 L579.15,189.83 L575.16,190.24 L571.17,190.62 L567.18,190.97 L563.19,191.30 L559.20,191.60 L555.21,191.86 L551.22,192.10 L547.23,192.31 L543.24,192.49 L539.25,192.65 L535.26,192.79 L531.27,192.90 L527.28,193.00 L523.29,193.08 L519.30,193.14 L515.31,193.20 L511.32,193.24 L507.33,193.28 L503.34,193.31 L499.35,193.33 L495.36,193.35 L491.37,193.36 L487.38,193.37 L483.39,193.38 L479.40,193.38 L475.41,193.39 L471.42,193.39 L467.43,193.39 L463.44,193.40 L459.45,193.40 L455.46,193.40 L451.47,193.40 L447.48,193.40 L443.49,193.40 L439.50,193.40 L435.51,193.40 L431.52,193.40 L427.53,193.40 L423.54,193.40 L419.55,193.40 L415.56,193.40 L411.57,193.40 L407.58,193.40 L403.59,193.40 L399.60,193.40 L395.61,193.40 L391.62,193.40 L387.63,193.40 L383.64,193.40" fill="none" stroke="#2020c4" stroke-width="1.0" stroke-linejoin="round"/>
<path d="M639.00,184.80 L635.01,185.41 L631.02,186.14 L627.03,186.87 L623.04,187.57 L619.05,188.22 L615.06,188.83 L611.07,189.38 L607.08,189.88 L603.09,190.32 L599.10,190.72 L595.11,191.07 L591.12,191.38 L587.13,191.66 L583.14,191.90 L579.15,192.11 L575.16,192.29 L571.17,192.45 L567.18,192.56 L563.19,192.59 L559.20,192.62 L555.21,192.64 L551.22,192.67 L547.23,192.70 L543.24,192.72 L539.25,192.74 L535.26,192.77 L531.27,192.79 L527.28,192.81 L523.29,192.83 L519.30,192.85 L515.31,192.87 L511.32,192.89 L507.33,192.91 L503.34,192.92 L499.35,192.94 L495.36,192.96 L491.37,192.97 L487.38,192.99 L483.39,193.00 L479.40,193.02 L475.41,193.03 L471.42,193.04 L467.43,193.06 L463.44,193.07 L459.45,193.08 L455.46,193.09 L451.47,193.10 L447.48,193.11 L443.49,193.12 L439.50,193.13 L435.51,193.14 L431.52,193.15 L427.53,193.16 L423.54,193.17 L419.55,193.18 L415.56,193.18 L411.57,193.19 L407.58,193.20 L403.59,193.21 L399.60,193.21 L395.61,193.22 L391.62,193.23 L387.63,193.23 L383.64,193.24" fill="none" stroke="#2020c4" stroke-width="1.0" stroke-linejoin="round"/>
<path d="M639.00,184.80 L635.01,187.11 L631.02,188.80 L627.03,190.03 L623.04,190.94 L619.05,191.60 L615.06,192.08 L611.07,192.15 L607.08,192.20 L603.09,192.24 L599.10,192.28 L595.11,192.32 L591.12,192.36 L587.13,192.39 L583.14,192.43 L579.15,192.46 L575.16,192.50 L571.17,192.53 L567.18,192.56 L563.19,192.59 L559.20,192.62 L555.21,192.64 L551.22,192.67 L547.23,192.70 L543.24,192.72 L539.25,192.74 L535.26,192.77 L531.27,192.79 L527.28,192.81 L523.29,192.83 L519.30,192.85 L515.31,192.87 L511.32,192.89 L507.33,192.91 L503.34,192.92 L499.35,192.94 L495.36,192.96 L491.37,192.97 L487.38,192.99 L483.39,193.00 L479.40,193.02 L475.41,193.03 L471.42,193.04 L467.43,193.06 L463.44,193.07 L459.45,193.08 L455.46,193.09 L451.47,193.10 L447.48,193.11 L443.49,193.12 L439.50,193.13 L435.51,193.14 L431.52,193.15 L427.53,193.16 L423.54,193.17 L419.55,193.18 L415.56,193.18 L411.57,193.19 L407.58,193.20 L403.59,193.21 L399.60,193.21 L395.61,193.22 L391.62,193.23 L387.63,193.23 L383.64,193.24" fill="none" stroke="#2020c4" stroke-width="1.0" stroke-linejoin="round"/>
</g>
<defs><clipPath id="clipA"><rect x="67.5" y="24.8" width="255.2" height="188.39999999999998"/></clipPath><clipPath id="clipB"><rect x="399.3" y="24.7" width="255.2" height="188.20000000000002"/></clipPath><radialGradient id="gr" cx="0.5" cy="0.5" r="0.5" fx="0.33" fy="0.3"><stop offset="0" stop-color="#ffd0d0"/><stop offset="0.25" stop-color="#f03030"/><stop offset="0.7" stop-color="#d80808"/><stop offset="1" stop-color="#900000"/></radialGradient><radialGradient id="gb" cx="0.5" cy="0.5" r="0.5" fx="0.33" fy="0.3"><stop offset="0" stop-color="#e0e0ff"/><stop offset="0.25" stop-color="#4848f0"/><stop offset="0.7" stop-color="#1c1cd0"/><stop offset="1" stop-color="#000088"/></radialGradient></defs>
<line x1="67.50" y1="24.80" x2="322.70" y2="24.80" stroke="#222" stroke-width="1.0"/>
<line x1="322.70" y1="24.80" x2="322.70" y2="213.20" stroke="#222" stroke-width="1.0"/>
<line x1="67.50" y1="24.30" x2="67.50" y2="214.00" stroke="#000" stroke-width="1.6"/>
<line x1="66.70" y1="213.20" x2="323.20" y2="213.20" stroke="#000" stroke-width="1.6"/>
<line x1="67.50" y1="37.20" x2="75.00" y2="37.20" stroke="#000" stroke-width="1.5"/>
<line x1="322.70" y1="37.20" x2="319.20" y2="37.20" stroke="#222" stroke-width="1.0"/>
<line x1="67.50" y1="49.77" x2="71.50" y2="49.77" stroke="#000" stroke-width="1.5"/>
<line x1="322.70" y1="49.77" x2="320.70" y2="49.77" stroke="#222" stroke-width="1.0"/>
<line x1="67.50" y1="62.34" x2="75.00" y2="62.34" stroke="#000" stroke-width="1.5"/>
<line x1="322.70" y1="62.34" x2="319.20" y2="62.34" stroke="#222" stroke-width="1.0"/>
<line x1="67.50" y1="74.91" x2="71.50" y2="74.91" stroke="#000" stroke-width="1.5"/>
<line x1="322.70" y1="74.91" x2="320.70" y2="74.91" stroke="#222" stroke-width="1.0"/>
<line x1="67.50" y1="87.48" x2="75.00" y2="87.48" stroke="#000" stroke-width="1.5"/>
<line x1="322.70" y1="87.48" x2="319.20" y2="87.48" stroke="#222" stroke-width="1.0"/>
<line x1="67.50" y1="100.05" x2="71.50" y2="100.05" stroke="#000" stroke-width="1.5"/>
<line x1="322.70" y1="100.05" x2="320.70" y2="100.05" stroke="#222" stroke-width="1.0"/>
<line x1="67.50" y1="112.62" x2="75.00" y2="112.62" stroke="#000" stroke-width="1.5"/>
<line x1="322.70" y1="112.62" x2="319.20" y2="112.62" stroke="#222" stroke-width="1.0"/>
<line x1="67.50" y1="125.19" x2="71.50" y2="125.19" stroke="#000" stroke-width="1.5"/>
<line x1="322.70" y1="125.19" x2="320.70" y2="125.19" stroke="#222" stroke-width="1.0"/>
<line x1="67.50" y1="137.76" x2="75.00" y2="137.76" stroke="#000" stroke-width="1.5"/>
<line x1="322.70" y1="137.76" x2="319.20" y2="137.76" stroke="#222" stroke-width="1.0"/>
<line x1="67.50" y1="150.33" x2="71.50" y2="150.33" stroke="#000" stroke-width="1.5"/>
<line x1="322.70" y1="150.33" x2="320.70" y2="150.33" stroke="#222" stroke-width="1.0"/>
<line x1="67.50" y1="162.90" x2="75.00" y2="162.90" stroke="#000" stroke-width="1.5"/>
<line x1="322.70" y1="162.90" x2="319.20" y2="162.90" stroke="#222" stroke-width="1.0"/>
<line x1="67.50" y1="175.47" x2="71.50" y2="175.47" stroke="#000" stroke-width="1.5"/>
<line x1="322.70" y1="175.47" x2="320.70" y2="175.47" stroke="#222" stroke-width="1.0"/>
<line x1="67.50" y1="188.04" x2="75.00" y2="188.04" stroke="#000" stroke-width="1.5"/>
<line x1="322.70" y1="188.04" x2="319.20" y2="188.04" stroke="#222" stroke-width="1.0"/>
<line x1="67.50" y1="200.61" x2="71.50" y2="200.61" stroke="#000" stroke-width="1.5"/>
<line x1="322.70" y1="200.61" x2="320.70" y2="200.61" stroke="#222" stroke-width="1.0"/>
<line x1="83.70" y1="213.20" x2="83.70" y2="206.20" stroke="#000" stroke-width="1.5"/>
<line x1="83.70" y1="24.80" x2="83.70" y2="28.80" stroke="#222" stroke-width="1.0"/>
<line x1="123.53" y1="213.20" x2="123.53" y2="209.20" stroke="#000" stroke-width="1.5"/>
<line x1="123.53" y1="24.80" x2="123.53" y2="27.30" stroke="#222" stroke-width="1.0"/>
<line x1="163.35" y1="213.20" x2="163.35" y2="206.20" stroke="#000" stroke-width="1.5"/>
<line x1="163.35" y1="24.80" x2="163.35" y2="28.80" stroke="#222" stroke-width="1.0"/>
<line x1="203.18" y1="213.20" x2="203.18" y2="209.20" stroke="#000" stroke-width="1.5"/>
<line x1="203.18" y1="24.80" x2="203.18" y2="27.30" stroke="#222" stroke-width="1.0"/>
<line x1="243.00" y1="213.20" x2="243.00" y2="206.20" stroke="#000" stroke-width="1.5"/>
<line x1="243.00" y1="24.80" x2="243.00" y2="28.80" stroke="#222" stroke-width="1.0"/>
<line x1="282.82" y1="213.20" x2="282.82" y2="209.20" stroke="#000" stroke-width="1.5"/>
<line x1="282.82" y1="24.80" x2="282.82" y2="27.30" stroke="#222" stroke-width="1.0"/>
<line x1="399.30" y1="24.70" x2="654.50" y2="24.70" stroke="#222" stroke-width="1.0"/>
<line x1="654.50" y1="24.70" x2="654.50" y2="212.90" stroke="#222" stroke-width="1.0"/>
<line x1="399.30" y1="24.20" x2="399.30" y2="213.70" stroke="#000" stroke-width="1.6"/>
<line x1="398.50" y1="212.90" x2="655.00" y2="212.90" stroke="#000" stroke-width="1.6"/>
<line x1="399.30" y1="212.05" x2="403.30" y2="212.05" stroke="#000" stroke-width="1.5"/>
<line x1="654.50" y1="212.05" x2="652.50" y2="212.05" stroke="#222" stroke-width="1.0"/>
<line x1="399.30" y1="193.40" x2="406.80" y2="193.40" stroke="#000" stroke-width="1.5"/>
<line x1="654.50" y1="193.40" x2="651.00" y2="193.40" stroke="#222" stroke-width="1.0"/>
<line x1="399.30" y1="174.75" x2="403.30" y2="174.75" stroke="#000" stroke-width="1.5"/>
<line x1="654.50" y1="174.75" x2="652.50" y2="174.75" stroke="#222" stroke-width="1.0"/>
<line x1="399.30" y1="156.10" x2="406.80" y2="156.10" stroke="#000" stroke-width="1.5"/>
<line x1="654.50" y1="156.10" x2="651.00" y2="156.10" stroke="#222" stroke-width="1.0"/>
<line x1="399.30" y1="137.45" x2="403.30" y2="137.45" stroke="#000" stroke-width="1.5"/>
<line x1="654.50" y1="137.45" x2="652.50" y2="137.45" stroke="#222" stroke-width="1.0"/>
<line x1="399.30" y1="118.80" x2="406.80" y2="118.80" stroke="#000" stroke-width="1.5"/>
<line x1="654.50" y1="118.80" x2="651.00" y2="118.80" stroke="#222" stroke-width="1.0"/>
<line x1="399.30" y1="100.15" x2="403.30" y2="100.15" stroke="#000" stroke-width="1.5"/>
<line x1="654.50" y1="100.15" x2="652.50" y2="100.15" stroke="#222" stroke-width="1.0"/>
<line x1="399.30" y1="81.50" x2="406.80" y2="81.50" stroke="#000" stroke-width="1.5"/>
<line x1="654.50" y1="81.50" x2="651.00" y2="81.50" stroke="#222" stroke-width="1.0"/>
<line x1="399.30" y1="62.85" x2="403.30" y2="62.85" stroke="#000" stroke-width="1.5"/>
<line x1="654.50" y1="62.85" x2="652.50" y2="62.85" stroke="#222" stroke-width="1.0"/>
<line x1="399.30" y1="44.20" x2="406.80" y2="44.20" stroke="#000" stroke-width="1.5"/>
<line x1="654.50" y1="44.20" x2="651.00" y2="44.20" stroke="#222" stroke-width="1.0"/>
<line x1="399.30" y1="25.55" x2="403.30" y2="25.55" stroke="#000" stroke-width="1.5"/>
<line x1="654.50" y1="25.55" x2="652.50" y2="25.55" stroke="#222" stroke-width="1.0"/>
<line x1="439.50" y1="212.90" x2="439.50" y2="208.90" stroke="#000" stroke-width="1.5"/>
<line x1="439.50" y1="24.70" x2="439.50" y2="27.20" stroke="#222" stroke-width="1.0"/>
<line x1="479.40" y1="212.90" x2="479.40" y2="205.90" stroke="#000" stroke-width="1.5"/>
<line x1="479.40" y1="24.70" x2="479.40" y2="28.70" stroke="#222" stroke-width="1.0"/>
<line x1="519.30" y1="212.90" x2="519.30" y2="208.90" stroke="#000" stroke-width="1.5"/>
<line x1="519.30" y1="24.70" x2="519.30" y2="27.20" stroke="#222" stroke-width="1.0"/>
<line x1="559.20" y1="212.90" x2="559.20" y2="205.90" stroke="#000" stroke-width="1.5"/>
<line x1="559.20" y1="24.70" x2="559.20" y2="28.70" stroke="#222" stroke-width="1.0"/>
<line x1="599.10" y1="212.90" x2="599.10" y2="208.90" stroke="#000" stroke-width="1.5"/>
<line x1="599.10" y1="24.70" x2="599.10" y2="27.20" stroke="#222" stroke-width="1.0"/>
<line x1="639.00" y1="212.90" x2="639.00" y2="205.90" stroke="#000" stroke-width="1.5"/>
<line x1="639.00" y1="24.70" x2="639.00" y2="28.70" stroke="#222" stroke-width="1.0"/>
<text x="59.40" y="39.10" font-size="10" font-weight="bold" text-anchor="end" fill="#000" letter-spacing="0.3" stroke="#000" stroke-width="0.25">0.0</text>
<text x="53.60" y="66.24" font-size="10" font-weight="bold" text-anchor="end" fill="#000" letter-spacing="0.3" stroke="#000" stroke-width="0.25">-5.0x10</text>
<text x="54.60" y="60.14" font-size="5.6" font-weight="bold" text-anchor="start" fill="#000" >-7</text>
<text x="53.60" y="91.38" font-size="10" font-weight="bold" text-anchor="end" fill="#000" letter-spacing="0.3" stroke="#000" stroke-width="0.25">-1.0x10</text>
<text x="54.60" y="85.28" font-size="5.6" font-weight="bold" text-anchor="start" fill="#000" >-6</text>
<text x="53.60" y="116.52" font-size="10" font-weight="bold" text-anchor="end" fill="#000" letter-spacing="0.3" stroke="#000" stroke-width="0.25">-1.5x10</text>
<text x="54.60" y="110.42" font-size="5.6" font-weight="bold" text-anchor="start" fill="#000" >-6</text>
<text x="53.60" y="141.66" font-size="10" font-weight="bold" text-anchor="end" fill="#000" letter-spacing="0.3" stroke="#000" stroke-width="0.25">-2.0x10</text>
<text x="54.60" y="135.56" font-size="5.6" font-weight="bold" text-anchor="start" fill="#000" >-6</text>
<text x="53.60" y="166.80" font-size="10" font-weight="bold" text-anchor="end" fill="#000" letter-spacing="0.3" stroke="#000" stroke-width="0.25">-2.5x10</text>
<text x="54.60" y="160.70" font-size="5.6" font-weight="bold" text-anchor="start" fill="#000" >-6</text>
<text x="53.60" y="191.94" font-size="10" font-weight="bold" text-anchor="end" fill="#000" letter-spacing="0.3" stroke="#000" stroke-width="0.25">-3.0x10</text>
<text x="54.60" y="185.84" font-size="5.6" font-weight="bold" text-anchor="start" fill="#000" >-6</text>
<text x="53.60" y="217.08" font-size="10" font-weight="bold" text-anchor="end" fill="#000" letter-spacing="0.3" stroke="#000" stroke-width="0.25">-3.5x10</text>
<text x="54.60" y="210.98" font-size="5.6" font-weight="bold" text-anchor="start" fill="#000" >-6</text>
<text x="83.70" y="230.30" font-size="10" font-weight="bold" text-anchor="middle" fill="#000" letter-spacing="0.3" stroke="#000" stroke-width="0.25">-3.0</text>
<text x="163.35" y="230.30" font-size="10" font-weight="bold" text-anchor="middle" fill="#000" letter-spacing="0.3" stroke="#000" stroke-width="0.25">-2.5</text>
<text x="243.00" y="230.30" font-size="10" font-weight="bold" text-anchor="middle" fill="#000" letter-spacing="0.3" stroke="#000" stroke-width="0.25">-2.0</text>
<text x="322.65" y="230.30" font-size="10" font-weight="bold" text-anchor="middle" fill="#000" letter-spacing="0.3" stroke="#000" stroke-width="0.25">-1.5</text>
<text x="390.90" y="195.30" font-size="10" font-weight="bold" text-anchor="end" fill="#000" letter-spacing="0.3" stroke="#000" stroke-width="0.25">0.0</text>
<text x="384.90" y="160.00" font-size="10" font-weight="bold" text-anchor="end" fill="#000" letter-spacing="0.3" stroke="#000" stroke-width="0.25">2.0x10</text>
<text x="385.90" y="153.90" font-size="5.6" font-weight="bold" text-anchor="start" fill="#000" >-6</text>
<text x="384.90" y="122.70" font-size="10" font-weight="bold" text-anchor="end" fill="#000" letter-spacing="0.3" stroke="#000" stroke-width="0.25">4.0x10</text>
<text x="385.90" y="116.60" font-size="5.6" font-weight="bold" text-anchor="start" fill="#000" >-6</text>
<text x="384.90" y="85.40" font-size="10" font-weight="bold" text-anchor="end" fill="#000" letter-spacing="0.3" stroke="#000" stroke-width="0.25">6.0x10</text>
<text x="385.90" y="79.30" font-size="5.6" font-weight="bold" text-anchor="start" fill="#000" >-6</text>
<text x="384.90" y="48.10" font-size="10" font-weight="bold" text-anchor="end" fill="#000" letter-spacing="0.3" stroke="#000" stroke-width="0.25">8.0x10</text>
<text x="385.90" y="42.00" font-size="5.6" font-weight="bold" text-anchor="start" fill="#000" >-6</text>
<text x="399.60" y="230.30" font-size="10" font-weight="bold" text-anchor="middle" fill="#000" letter-spacing="0.3" stroke="#000" stroke-width="0.25">1.5</text>
<text x="479.40" y="230.30" font-size="10" font-weight="bold" text-anchor="middle" fill="#000" letter-spacing="0.3" stroke="#000" stroke-width="0.25">2.0</text>
<text x="559.20" y="230.30" font-size="10" font-weight="bold" text-anchor="middle" fill="#000" letter-spacing="0.3" stroke="#000" stroke-width="0.25">2.5</text>
<text x="639.00" y="230.30" font-size="10" font-weight="bold" text-anchor="middle" fill="#000" letter-spacing="0.3" stroke="#000" stroke-width="0.25">3.0</text>
<text x="203.00" y="246.30" font-size="15.3" font-weight="normal" text-anchor="middle" fill="#111" >Voltage (V)</text>
<text x="520.00" y="246.30" font-size="15.3" font-weight="normal" text-anchor="middle" fill="#111" >Voltage (V)</text>
<text x="0" y="0" font-size="15.4" text-anchor="middle" fill="#111" transform="translate(10.9,129.2) rotate(-90)">Current (A)</text>
<text x="0" y="0" font-size="15.4" text-anchor="middle" fill="#111" transform="translate(348.3,128.9) rotate(-90)">Current (A)</text>
<text x="80.00" y="15.60" font-size="21" font-weight="bold" text-anchor="middle" fill="#000" letter-spacing="0.8">(a)</text>
<text x="411.60" y="15.60" font-size="21" font-weight="bold" text-anchor="middle" fill="#000" letter-spacing="0.8">(b)</text>
<path d="M139.4,94.4 C128,87 118,77 113,66 C110.5,60 109,56 108.3,53" fill="none" stroke="#000" stroke-width="2.8"/>
<path d="M105.2,44.6 L103.2,54.2 L112.0,51.0 Z" fill="#000"/>
<path d="M575.1,123 C590,134 605,147 612,165 C614,170 615,175 615.8,178" fill="none" stroke="#000" stroke-width="2.8"/>
<path d="M619.6,188.4 L612.6,178.8 L621.8,176.6 Z" fill="#000"/>
<rect x="181.6" y="90.8" width="128.00000000000003" height="93.7" fill="#fff" stroke="#333" stroke-width="0.8"/>
<line x1="188.60" y1="184.50" x2="188.60" y2="181.50" stroke="#333" stroke-width="0.8"/>
<line x1="188.60" y1="90.80" x2="188.60" y2="92.80" stroke="#333" stroke-width="0.8"/>
<text x="188.60" y="192.50" font-size="4.6" font-weight="bold" text-anchor="middle" fill="#333" >0</text>
<line x1="206.30" y1="184.50" x2="206.30" y2="182.70" stroke="#333" stroke-width="0.8"/>
<line x1="206.30" y1="90.80" x2="206.30" y2="92.00" stroke="#333" stroke-width="0.8"/>
<line x1="224.00" y1="184.50" x2="224.00" y2="181.50" stroke="#333" stroke-width="0.8"/>
<line x1="224.00" y1="90.80" x2="224.00" y2="92.80" stroke="#333" stroke-width="0.8"/>
<text x="224.00" y="192.50" font-size="4.6" font-weight="bold" text-anchor="middle" fill="#333" >5</text>
<line x1="241.70" y1="184.50" x2="241.70" y2="182.70" stroke="#333" stroke-width="0.8"/>
<line x1="241.70" y1="90.80" x2="241.70" y2="92.00" stroke="#333" stroke-width="0.8"/>
<line x1="259.40" y1="184.50" x2="259.40" y2="181.50" stroke="#333" stroke-width="0.8"/>
<line x1="259.40" y1="90.80" x2="259.40" y2="92.80" stroke="#333" stroke-width="0.8"/>
<text x="259.40" y="192.50" font-size="4.6" font-weight="bold" text-anchor="middle" fill="#333" >10</text>
<line x1="277.10" y1="184.50" x2="277.10" y2="182.70" stroke="#333" stroke-width="0.8"/>
<line x1="277.10" y1="90.80" x2="277.10" y2="92.00" stroke="#333" stroke-width="0.8"/>
<line x1="294.80" y1="184.50" x2="294.80" y2="181.50" stroke="#333" stroke-width="0.8"/>
<line x1="294.80" y1="90.80" x2="294.80" y2="92.80" stroke="#333" stroke-width="0.8"/>
<text x="294.80" y="192.50" font-size="4.6" font-weight="bold" text-anchor="middle" fill="#333" >15</text>
<line x1="181.60" y1="176.60" x2="184.60" y2="176.60" stroke="#333" stroke-width="0.8"/>
<line x1="309.60" y1="176.60" x2="307.60" y2="176.60" stroke="#333" stroke-width="0.8"/>
<text x="177.40" y="178.30" font-size="4.8" font-weight="bold" text-anchor="end" fill="#333" >0.0</text>
<line x1="181.60" y1="168.75" x2="184.60" y2="168.75" stroke="#333" stroke-width="0.8"/>
<line x1="309.60" y1="168.75" x2="307.60" y2="168.75" stroke="#333" stroke-width="0.8"/>
<line x1="181.60" y1="160.90" x2="184.60" y2="160.90" stroke="#333" stroke-width="0.8"/>
<line x1="309.60" y1="160.90" x2="307.60" y2="160.90" stroke="#333" stroke-width="0.8"/>
<text x="177.40" y="162.60" font-size="4.8" font-weight="bold" text-anchor="end" fill="#333">2.0x10<tspan font-size="3.2" dy="-1.8">-7</tspan></text>
<line x1="181.60" y1="153.05" x2="184.60" y2="153.05" stroke="#333" stroke-width="0.8"/>
<line x1="309.60" y1="153.05" x2="307.60" y2="153.05" stroke="#333" stroke-width="0.8"/>
<line x1="181.60" y1="145.20" x2="184.60" y2="145.20" stroke="#333" stroke-width="0.8"/>
<line x1="309.60" y1="145.20" x2="307.60" y2="145.20" stroke="#333" stroke-width="0.8"/>
<text x="177.40" y="146.90" font-size="4.8" font-weight="bold" text-anchor="end" fill="#333">4.0x10<tspan font-size="3.2" dy="-1.8">-7</tspan></text>
<line x1="181.60" y1="137.35" x2="184.60" y2="137.35" stroke="#333" stroke-width="0.8"/>
<line x1="309.60" y1="137.35" x2="307.60" y2="137.35" stroke="#333" stroke-width="0.8"/>
<line x1="181.60" y1="129.50" x2="184.60" y2="129.50" stroke="#333" stroke-width="0.8"/>
<line x1="309.60" y1="129.50" x2="307.60" y2="129.50" stroke="#333" stroke-width="0.8"/>
<text x="177.40" y="131.20" font-size="4.8" font-weight="bold" text-anchor="end" fill="#333">6.0x10<tspan font-size="3.2" dy="-1.8">-7</tspan></text>
<line x1="181.60" y1="121.65" x2="184.60" y2="121.65" stroke="#333" stroke-width="0.8"/>
<line x1="309.60" y1="121.65" x2="307.60" y2="121.65" stroke="#333" stroke-width="0.8"/>
<line x1="181.60" y1="113.80" x2="184.60" y2="113.80" stroke="#333" stroke-width="0.8"/>
<line x1="309.60" y1="113.80" x2="307.60" y2="113.80" stroke="#333" stroke-width="0.8"/>
<text x="177.40" y="115.50" font-size="4.8" font-weight="bold" text-anchor="end" fill="#333">8.0x10<tspan font-size="3.2" dy="-1.8">-7</tspan></text>
<line x1="181.60" y1="105.95" x2="184.60" y2="105.95" stroke="#333" stroke-width="0.8"/>
<line x1="309.60" y1="105.95" x2="307.60" y2="105.95" stroke="#333" stroke-width="0.8"/>
<line x1="181.60" y1="98.10" x2="184.60" y2="98.10" stroke="#333" stroke-width="0.8"/>
<line x1="309.60" y1="98.10" x2="307.60" y2="98.10" stroke="#333" stroke-width="0.8"/>
<text x="177.40" y="99.80" font-size="4.8" font-weight="bold" text-anchor="end" fill="#333">1.0x10<tspan font-size="3.2" dy="-1.8">-6</tspan></text>
<circle cx="195.68" cy="97.70" r="2.35" fill="url(#gr)"/>
<circle cx="202.76" cy="131.00" r="2.35" fill="url(#gr)"/>
<circle cx="209.84" cy="144.00" r="2.35" fill="url(#gr)"/>
<circle cx="216.92" cy="159.20" r="2.35" fill="url(#gr)"/>
<circle cx="224.00" cy="163.30" r="2.35" fill="url(#gr)"/>
<circle cx="231.08" cy="166.00" r="2.35" fill="url(#gr)"/>
<circle cx="238.16" cy="167.50" r="2.35" fill="url(#gr)"/>
<circle cx="245.24" cy="169.00" r="2.35" fill="url(#gr)"/>
<circle cx="252.32" cy="169.80" r="2.35" fill="url(#gr)"/>
<circle cx="259.40" cy="170.60" r="2.35" fill="url(#gr)"/>
<circle cx="266.48" cy="171.20" r="2.35" fill="url(#gr)"/>
<circle cx="273.56" cy="171.70" r="2.35" fill="url(#gr)"/>
<circle cx="280.64" cy="172.20" r="2.35" fill="url(#gr)"/>
<circle cx="287.72" cy="172.50" r="2.35" fill="url(#gr)"/>
<circle cx="294.80" cy="172.90" r="2.35" fill="url(#gr)"/>
<text x="245.00" y="200.30" font-size="7.5" font-weight="normal" text-anchor="middle" fill="#222" >Sweeping time (n)</text>
<text x="0" y="0" font-size="7.3" text-anchor="middle" fill="#222" transform="translate(154.6,140.8) rotate(-90)">Conductance (S)</text>
<rect x="441.5" y="36.5" width="127.60000000000002" height="93.30000000000001" fill="#fff" stroke="#333" stroke-width="0.8"/>
<line x1="448.60" y1="129.80" x2="448.60" y2="126.80" stroke="#333" stroke-width="0.8"/>
<line x1="448.60" y1="36.50" x2="448.60" y2="38.50" stroke="#333" stroke-width="0.8"/>
<text x="448.60" y="137.90" font-size="4.6" font-weight="bold" text-anchor="middle" fill="#333" >0</text>
<line x1="466.33" y1="129.80" x2="466.33" y2="128.00" stroke="#333" stroke-width="0.8"/>
<line x1="466.33" y1="36.50" x2="466.33" y2="37.70" stroke="#333" stroke-width="0.8"/>
<line x1="484.05" y1="129.80" x2="484.05" y2="126.80" stroke="#333" stroke-width="0.8"/>
<line x1="484.05" y1="36.50" x2="484.05" y2="38.50" stroke="#333" stroke-width="0.8"/>
<text x="484.05" y="137.90" font-size="4.6" font-weight="bold" text-anchor="middle" fill="#333" >5</text>
<line x1="501.78" y1="129.80" x2="501.78" y2="128.00" stroke="#333" stroke-width="0.8"/>
<line x1="501.78" y1="36.50" x2="501.78" y2="37.70" stroke="#333" stroke-width="0.8"/>
<line x1="519.50" y1="129.80" x2="519.50" y2="126.80" stroke="#333" stroke-width="0.8"/>
<line x1="519.50" y1="36.50" x2="519.50" y2="38.50" stroke="#333" stroke-width="0.8"/>
<text x="519.50" y="137.90" font-size="4.6" font-weight="bold" text-anchor="middle" fill="#333" >10</text>
<line x1="537.23" y1="129.80" x2="537.23" y2="128.00" stroke="#333" stroke-width="0.8"/>
<line x1="537.23" y1="36.50" x2="537.23" y2="37.70" stroke="#333" stroke-width="0.8"/>
<line x1="554.95" y1="129.80" x2="554.95" y2="126.80" stroke="#333" stroke-width="0.8"/>
<line x1="554.95" y1="36.50" x2="554.95" y2="38.50" stroke="#333" stroke-width="0.8"/>
<text x="554.95" y="137.90" font-size="4.6" font-weight="bold" text-anchor="middle" fill="#333" >15</text>
<line x1="441.50" y1="122.30" x2="444.50" y2="122.30" stroke="#333" stroke-width="0.8"/>
<line x1="569.10" y1="122.30" x2="567.10" y2="122.30" stroke="#333" stroke-width="0.8"/>
<text x="437.30" y="124.00" font-size="4.8" font-weight="bold" text-anchor="end" fill="#333" >0.0</text>
<line x1="441.50" y1="115.15" x2="444.50" y2="115.15" stroke="#333" stroke-width="0.8"/>
<line x1="569.10" y1="115.15" x2="567.10" y2="115.15" stroke="#333" stroke-width="0.8"/>
<line x1="441.50" y1="108.00" x2="444.50" y2="108.00" stroke="#333" stroke-width="0.8"/>
<line x1="569.10" y1="108.00" x2="567.10" y2="108.00" stroke="#333" stroke-width="0.8"/>
<text x="437.30" y="109.70" font-size="4.8" font-weight="bold" text-anchor="end" fill="#333">5.0x10<tspan font-size="3.2" dy="-1.8">-7</tspan></text>
<line x1="441.50" y1="100.85" x2="444.50" y2="100.85" stroke="#333" stroke-width="0.8"/>
<line x1="569.10" y1="100.85" x2="567.10" y2="100.85" stroke="#333" stroke-width="0.8"/>
<line x1="441.50" y1="93.70" x2="444.50" y2="93.70" stroke="#333" stroke-width="0.8"/>
<line x1="569.10" y1="93.70" x2="567.10" y2="93.70" stroke="#333" stroke-width="0.8"/>
<text x="437.30" y="95.40" font-size="4.8" font-weight="bold" text-anchor="end" fill="#333">1.0x10<tspan font-size="3.2" dy="-1.8">-6</tspan></text>
<line x1="441.50" y1="86.55" x2="444.50" y2="86.55" stroke="#333" stroke-width="0.8"/>
<line x1="569.10" y1="86.55" x2="567.10" y2="86.55" stroke="#333" stroke-width="0.8"/>
<line x1="441.50" y1="79.40" x2="444.50" y2="79.40" stroke="#333" stroke-width="0.8"/>
<line x1="569.10" y1="79.40" x2="567.10" y2="79.40" stroke="#333" stroke-width="0.8"/>
<text x="437.30" y="81.10" font-size="4.8" font-weight="bold" text-anchor="end" fill="#333">1.5x10<tspan font-size="3.2" dy="-1.8">-6</tspan></text>
<line x1="441.50" y1="72.25" x2="444.50" y2="72.25" stroke="#333" stroke-width="0.8"/>
<line x1="569.10" y1="72.25" x2="567.10" y2="72.25" stroke="#333" stroke-width="0.8"/>
<line x1="441.50" y1="65.10" x2="444.50" y2="65.10" stroke="#333" stroke-width="0.8"/>
<line x1="569.10" y1="65.10" x2="567.10" y2="65.10" stroke="#333" stroke-width="0.8"/>
<text x="437.30" y="66.80" font-size="4.8" font-weight="bold" text-anchor="end" fill="#333">2.0x10<tspan font-size="3.2" dy="-1.8">-6</tspan></text>
<line x1="441.50" y1="57.95" x2="444.50" y2="57.95" stroke="#333" stroke-width="0.8"/>
<line x1="569.10" y1="57.95" x2="567.10" y2="57.95" stroke="#333" stroke-width="0.8"/>
<line x1="441.50" y1="50.80" x2="444.50" y2="50.80" stroke="#333" stroke-width="0.8"/>
<line x1="569.10" y1="50.80" x2="567.10" y2="50.80" stroke="#333" stroke-width="0.8"/>
<text x="437.30" y="52.50" font-size="4.8" font-weight="bold" text-anchor="end" fill="#333">2.5x10<tspan font-size="3.2" dy="-1.8">-6</tspan></text>
<line x1="441.50" y1="43.65" x2="444.50" y2="43.65" stroke="#333" stroke-width="0.8"/>
<line x1="569.10" y1="43.65" x2="567.10" y2="43.65" stroke="#333" stroke-width="0.8"/>
<line x1="441.50" y1="36.50" x2="444.50" y2="36.50" stroke="#333" stroke-width="0.8"/>
<line x1="569.10" y1="36.50" x2="567.10" y2="36.50" stroke="#333" stroke-width="0.8"/>
<text x="437.30" y="38.20" font-size="4.8" font-weight="bold" text-anchor="end" fill="#333">3.0x10<tspan font-size="3.2" dy="-1.8">-6</tspan></text>
<circle cx="455.69" cy="46.90" r="2.35" fill="url(#gb)"/>
<circle cx="462.78" cy="78.50" r="2.35" fill="url(#gb)"/>
<circle cx="469.87" cy="103.20" r="2.35" fill="url(#gb)"/>
<circle cx="476.96" cy="112.40" r="2.35" fill="url(#gb)"/>
<circle cx="484.05" cy="113.00" r="2.35" fill="url(#gb)"/>
<circle cx="491.14" cy="113.20" r="2.35" fill="url(#gb)"/>
<circle cx="498.23" cy="114.20" r="2.35" fill="url(#gb)"/>
<circle cx="505.32" cy="115.40" r="2.35" fill="url(#gb)"/>
<circle cx="512.41" cy="116.00" r="2.35" fill="url(#gb)"/>
<circle cx="519.50" cy="117.00" r="2.35" fill="url(#gb)"/>
<circle cx="526.59" cy="117.00" r="2.35" fill="url(#gb)"/>
<circle cx="533.68" cy="117.40" r="2.35" fill="url(#gb)"/>
<circle cx="540.77" cy="117.80" r="2.35" fill="url(#gb)"/>
<circle cx="547.86" cy="117.90" r="2.35" fill="url(#gb)"/>
<circle cx="554.95" cy="118.10" r="2.35" fill="url(#gb)"/>
<text x="505.30" y="144.70" font-size="7.4" font-weight="normal" text-anchor="middle" fill="#222" >Sweeping number (n)</text>
<text x="0" y="0" font-size="7.3" text-anchor="middle" fill="#222" transform="translate(415.5,86.1) rotate(-90)">Conductance (S)</text>
</svg>
</body></html>
